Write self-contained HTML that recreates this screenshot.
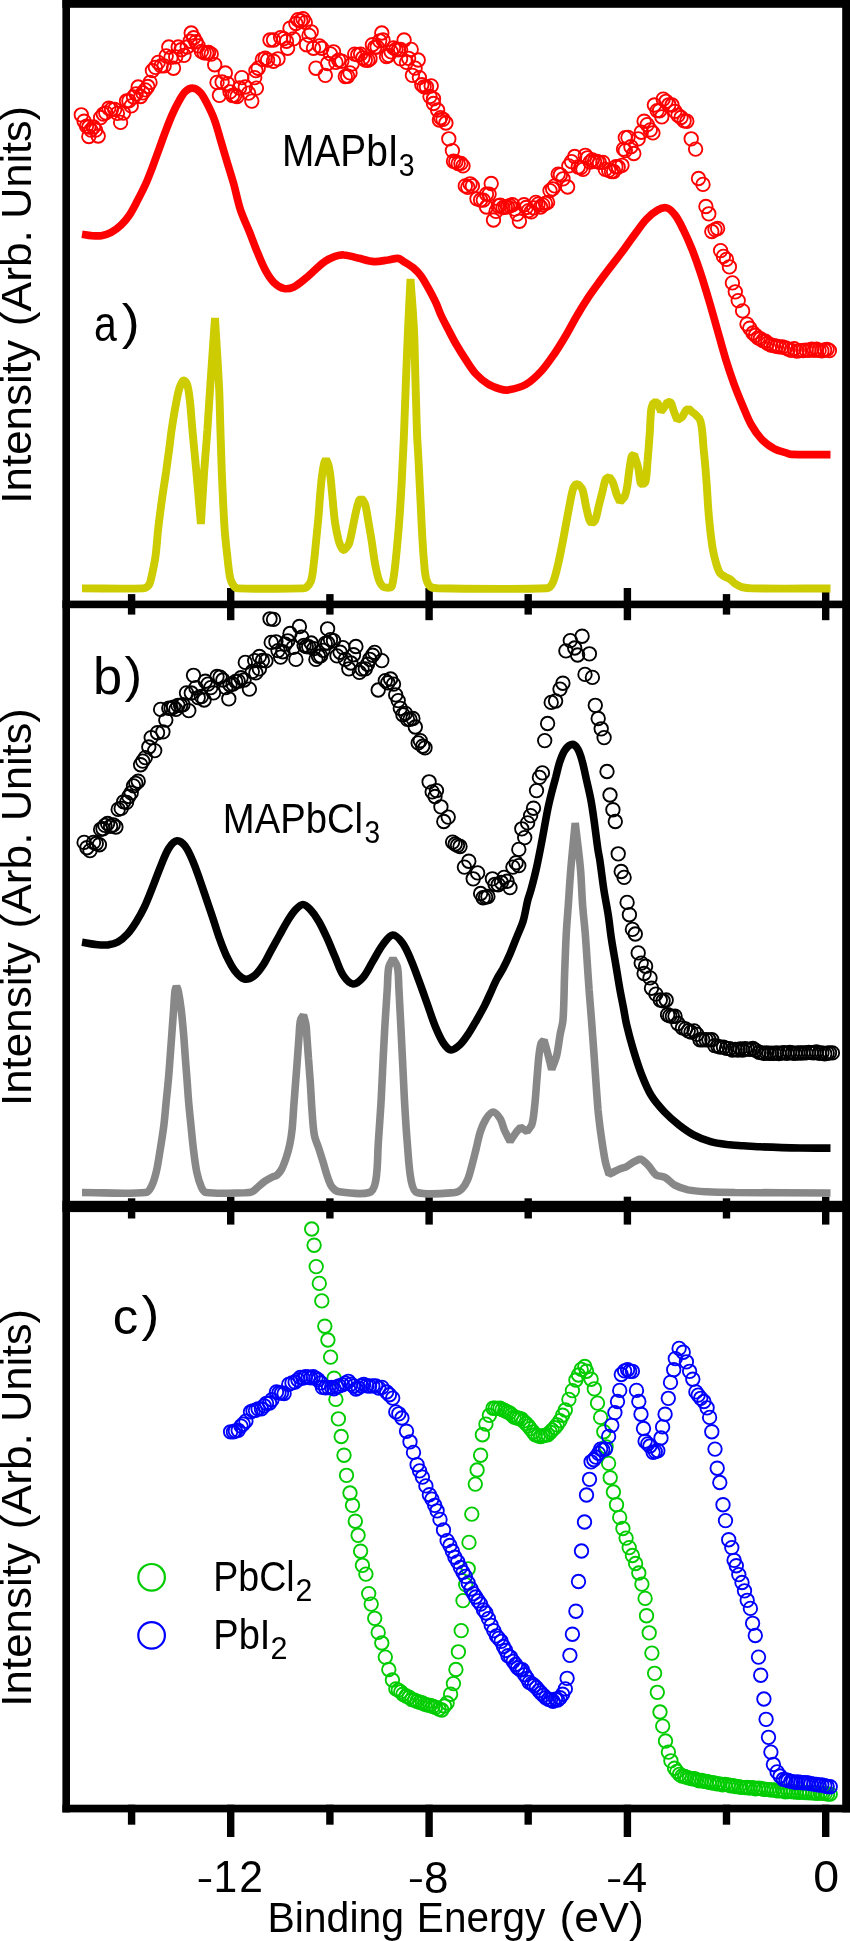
<!DOCTYPE html>
<html><head><meta charset="utf-8"><style>
html,body{margin:0;padding:0;background:#fff;}
body{width:850px;height:1941px;overflow:hidden;}
svg{position:absolute;left:0;top:0;display:block;}
</style></head><body>
<svg width="850" height="1941" viewBox="0 0 850 1941">
<rect x="62.4" y="0" width="7.6" height="1812.4" fill="#000"/>
<rect x="842.2" y="0" width="7.8" height="1812.4" fill="#000"/>
<rect x="62.4" y="0" width="787.6" height="7.8" fill="#000"/>
<rect x="62.4" y="600.6" width="787.6" height="7.6" fill="#000"/>
<rect x="62.4" y="1200.8" width="787.6" height="11.3" fill="#000"/>
<rect x="62.4" y="1804.7" width="787.6" height="7.7" fill="#000"/>
<rect x="127.9" y="594.1" width="7.4" height="20.5" fill="#000"/>
<rect x="127.9" y="1198.3" width="7.4" height="20.2" fill="#000"/>
<rect x="127.9" y="1804.7" width="7.4" height="20.0" fill="#000"/>
<rect x="227.0" y="588.0" width="7.4" height="32.2" fill="#000"/>
<rect x="227.0" y="1196.7" width="7.4" height="27.9" fill="#000"/>
<rect x="227.0" y="1804.7" width="7.4" height="32.3" fill="#000"/>
<rect x="326.2" y="594.1" width="7.4" height="20.5" fill="#000"/>
<rect x="326.2" y="1198.3" width="7.4" height="20.2" fill="#000"/>
<rect x="326.2" y="1804.7" width="7.4" height="20.0" fill="#000"/>
<rect x="425.4" y="588.0" width="7.4" height="32.2" fill="#000"/>
<rect x="425.4" y="1196.7" width="7.4" height="27.9" fill="#000"/>
<rect x="425.4" y="1804.7" width="7.4" height="32.3" fill="#000"/>
<rect x="524.5" y="594.1" width="7.4" height="20.5" fill="#000"/>
<rect x="524.5" y="1198.3" width="7.4" height="20.2" fill="#000"/>
<rect x="524.5" y="1804.7" width="7.4" height="20.0" fill="#000"/>
<rect x="623.7" y="588.0" width="7.4" height="32.2" fill="#000"/>
<rect x="623.7" y="1196.7" width="7.4" height="27.9" fill="#000"/>
<rect x="623.7" y="1804.7" width="7.4" height="32.3" fill="#000"/>
<rect x="722.8" y="594.1" width="7.4" height="20.5" fill="#000"/>
<rect x="722.8" y="1198.3" width="7.4" height="20.2" fill="#000"/>
<rect x="722.8" y="1804.7" width="7.4" height="20.0" fill="#000"/>
<rect x="822.0" y="588.0" width="7.4" height="32.2" fill="#000"/>
<rect x="822.0" y="1196.7" width="7.4" height="27.9" fill="#000"/>
<rect x="822.0" y="1804.7" width="7.4" height="32.3" fill="#000"/>
<path d="M82.00,588.40 C102.33,588.40 122.74,588.84 143.00,588.40 C144.41,588.37 145.87,587.76 147.00,587.00 C148.04,586.30 148.95,585.15 149.50,584.00 C150.35,582.22 150.77,580.17 151.20,578.20 C152.74,571.20 154.40,564.19 155.40,557.10 C156.73,547.73 157.13,538.22 158.20,528.80 C159.27,519.38 160.50,509.99 161.80,500.60 C163.10,491.19 164.65,481.81 166.00,472.40 C167.22,463.91 168.38,455.41 169.50,446.90 C170.24,441.27 170.76,435.61 171.60,430.00 C172.93,421.15 174.35,412.30 176.00,403.50 C176.98,398.30 177.89,393.00 179.50,388.00 C180.36,385.34 181.83,381.34 183.40,380.50 C184.33,380.00 186.50,382.47 187.00,384.00 C188.63,388.97 189.17,394.63 189.80,400.00 C190.97,409.96 191.48,420.00 192.40,430.00 C193.68,444.00 195.13,457.99 196.40,472.00 C197.97,489.33 199.40,506.67 200.90,524.00 C201.97,506.80 202.91,489.59 204.10,472.40 C205.08,458.26 206.39,444.14 207.40,430.00 C208.35,416.67 209.10,403.33 210.00,390.00 C211.63,366.00 213.33,342.00 215.00,318.00 C216.40,342.00 218.04,365.99 219.20,390.00 C219.84,403.32 219.98,416.67 220.40,430.00 C220.85,444.13 221.20,458.27 221.80,472.40 C222.60,491.21 223.36,510.02 224.60,528.80 C225.23,538.26 226.33,547.68 227.40,557.10 C228.20,564.15 228.72,571.32 230.20,578.20 C230.76,580.79 231.94,583.46 233.50,585.50 C234.54,586.86 236.24,588.33 238.00,588.40 C259.40,589.29 281.36,588.65 303.00,588.40 C304.10,588.39 305.43,588.30 306.20,587.60 C308.06,585.90 310.12,583.67 310.90,581.20 C312.66,575.63 313.04,569.43 313.80,563.50 C314.80,555.69 315.42,547.83 316.20,540.00 C316.98,532.17 317.82,524.34 318.50,516.50 C319.18,508.64 319.61,500.76 320.30,492.90 C320.81,487.03 321.34,481.14 322.10,475.30 C322.64,471.18 323.24,467.02 324.20,463.00 C324.54,461.59 325.40,460.33 326.00,459.00 C326.83,461.00 327.95,462.92 328.50,465.00 C329.38,468.35 329.88,471.84 330.30,475.30 C331.25,483.11 331.82,490.97 332.60,498.80 C333.39,506.67 333.88,514.58 335.00,522.40 C335.85,528.31 337.09,534.20 338.50,540.00 C339.09,542.40 339.86,544.85 341.00,547.00 C341.63,548.19 342.83,549.91 343.80,550.00 C344.67,550.08 345.73,548.44 346.50,547.50 C347.50,546.28 348.63,545.00 349.10,543.50 C350.66,538.57 351.50,533.31 352.60,528.20 C353.86,522.35 354.83,516.43 356.20,510.60 C357.00,507.19 357.81,503.68 359.10,500.50 C359.45,499.64 360.43,499.17 361.10,498.50 C361.90,499.33 362.91,500.03 363.50,501.00 C364.41,502.49 365.20,504.18 365.60,505.90 C366.86,511.31 367.55,516.90 368.50,522.40 C369.51,528.26 370.57,534.12 371.50,540.00 C372.74,547.82 373.59,555.71 375.00,563.50 C375.93,568.64 376.99,573.82 378.50,578.80 C379.16,580.99 380.21,583.17 381.50,585.00 C382.18,585.97 383.28,586.88 384.40,587.20 C386.21,587.72 388.60,587.98 390.30,587.50 C391.20,587.25 391.95,586.00 392.20,585.00 C393.39,580.23 393.98,575.16 394.60,570.20 C395.68,561.46 396.48,552.67 397.30,543.90 C398.12,535.14 398.85,526.37 399.50,517.60 C400.15,508.84 400.70,500.07 401.20,491.30 C401.70,482.57 402.07,473.83 402.50,465.10 C402.93,456.33 403.44,447.57 403.80,438.80 C404.61,418.80 405.23,398.80 406.00,378.80 C406.63,362.53 407.27,346.26 408.00,330.00 C408.77,313.00 409.67,296.00 410.50,279.00 C411.67,296.00 413.16,312.98 414.00,330.00 C414.80,346.25 414.92,362.53 415.40,378.80 C415.95,397.53 416.40,416.27 417.10,435.00 C417.37,442.11 417.93,449.20 418.30,456.30 C418.76,465.07 419.17,473.83 419.60,482.60 C420.03,491.37 420.47,500.13 420.90,508.90 C421.33,517.67 421.68,526.44 422.20,535.20 C422.72,543.97 423.20,552.75 424.00,561.50 C424.53,567.35 424.75,573.40 426.20,579.00 C426.95,581.87 428.48,585.17 430.60,586.90 C432.28,588.27 435.22,588.27 437.60,588.30 C474.02,588.74 510.91,589.44 547.00,588.30 C548.98,588.24 550.76,586.32 551.80,584.70 C553.53,581.99 554.35,578.50 555.30,575.30 C556.68,570.67 557.75,565.93 558.80,561.20 C560.11,555.33 561.25,549.41 562.40,543.50 C563.62,537.24 564.73,530.97 565.90,524.70 C567.07,518.43 568.16,512.15 569.40,505.90 C570.49,500.39 571.37,494.77 572.90,489.40 C573.40,487.63 574.34,485.73 575.50,484.50 C576.04,483.93 577.17,484.17 578.00,484.00 C579.47,485.80 581.63,487.27 582.40,489.40 C584.26,494.57 584.65,500.42 585.90,505.90 C586.98,510.62 587.88,515.46 589.40,520.00 C589.84,521.33 591.00,522.33 591.80,523.50 C592.97,522.33 594.71,521.49 595.30,520.00 C597.04,515.62 597.62,510.60 598.80,505.90 C599.98,501.20 601.17,496.49 602.40,491.80 C603.54,487.46 604.09,482.62 605.90,478.80 C606.43,477.68 608.23,477.60 609.40,477.00 C610.57,478.80 612.08,480.44 612.90,482.40 C614.45,486.14 615.11,490.27 616.50,494.10 C617.48,496.80 618.83,499.37 620.00,502.00 C621.57,500.17 623.69,498.62 624.70,496.50 C626.06,493.65 626.55,490.28 627.10,487.10 C628.11,481.25 628.51,475.28 629.40,469.40 C630.08,464.91 630.50,460.13 631.80,456.00 C632.06,455.17 633.33,455.00 634.10,454.50 C634.90,457.00 635.74,459.49 636.50,462.00 C637.21,464.35 638.03,466.69 638.50,469.10 C639.40,473.69 639.42,478.66 640.60,483.00 C640.82,483.80 642.00,484.00 642.70,484.50 C643.63,483.67 645.26,483.18 645.50,482.00 C646.89,475.22 646.98,467.74 647.60,460.60 C648.41,451.21 649.13,441.80 649.80,432.40 C650.33,424.87 650.33,417.26 651.20,409.80 C651.49,407.30 652.60,404.93 653.30,402.50 C654.70,402.50 656.10,402.50 657.50,402.50 C658.67,405.50 659.83,408.50 661.00,411.50 C662.20,409.97 663.53,408.52 664.60,406.90 C665.66,405.29 666.47,403.50 667.40,401.80 C668.57,402.10 670.29,401.80 670.90,402.70 C672.42,404.93 672.76,408.39 673.80,411.20 C674.89,414.16 676.13,417.07 677.30,420.00 C678.93,418.93 680.94,418.21 682.20,416.80 C683.77,415.05 684.33,412.34 685.80,410.50 C686.46,409.67 687.67,409.37 688.60,408.80 C689.77,409.83 690.91,410.89 692.10,411.90 C693.51,413.09 695.09,414.11 696.40,415.40 C697.69,416.67 699.25,417.95 699.90,419.60 C701.11,422.65 701.57,426.16 702.00,429.50 C702.73,435.13 702.89,440.84 703.40,446.50 C703.82,451.20 704.38,455.90 704.80,460.60 C705.31,466.23 705.77,471.86 706.20,477.50 C706.64,483.33 707.02,489.17 707.40,495.00 C707.72,499.80 707.92,504.61 708.30,509.40 C708.82,515.87 709.38,522.35 710.10,528.80 C710.82,535.28 711.50,541.78 712.60,548.20 C713.43,553.02 714.53,557.82 715.90,562.50 C716.93,566.02 717.90,569.81 719.80,572.80 C720.90,574.54 723.10,575.56 724.90,576.70 C726.53,577.73 728.51,578.22 730.10,579.30 C731.98,580.58 733.41,582.54 735.30,583.80 C737.31,585.14 739.49,586.47 741.80,587.10 C745.09,588.00 748.64,588.35 752.10,588.40 C778.21,588.81 804.37,588.47 830.50,588.50" fill="none" stroke="#cccc00" stroke-width="7.9" stroke-linejoin="bevel" stroke-linecap="butt"/>
<path d="M82.00,234.20 C85.17,234.70 88.31,235.45 91.50,235.70 C94.78,235.95 98.19,236.24 101.40,235.70 C104.75,235.14 108.21,234.02 111.20,232.40 C114.78,230.46 118.13,227.82 121.10,225.00 C124.20,222.05 127.02,218.66 129.40,215.10 C132.52,210.43 134.98,205.29 137.60,200.30 C140.45,194.86 143.29,189.40 145.80,183.80 C148.22,178.40 150.29,172.83 152.40,167.30 C154.69,161.30 156.80,155.23 159.00,149.20 C161.20,143.17 163.31,137.10 165.60,131.10 C167.71,125.57 169.80,120.01 172.20,114.60 C174.20,110.11 176.36,105.66 178.80,101.40 C180.76,97.96 182.62,94.12 185.40,91.50 C187.29,89.72 190.39,88.05 192.80,88.20 C195.33,88.35 198.32,90.40 200.20,92.40 C202.98,95.36 204.88,99.39 206.80,103.10 C209.64,108.59 212.36,114.21 214.50,120.00 C217.06,126.91 218.78,134.13 220.90,141.20 C223.02,148.26 225.08,155.34 227.20,162.40 C229.31,169.44 231.62,176.42 233.60,183.50 C236.06,192.29 237.66,201.35 240.50,210.00 C242.93,217.41 246.50,224.44 249.40,231.70 C252.24,238.81 254.75,246.04 257.70,253.10 C260.25,259.21 262.70,265.43 265.90,271.20 C268.17,275.30 270.77,279.52 274.10,282.70 C276.80,285.28 280.48,287.75 284.00,288.50 C287.08,289.15 290.95,288.27 293.90,286.90 C298.08,284.97 301.73,281.57 305.40,278.60 C308.86,275.80 311.94,272.53 315.30,269.60 C318.54,266.77 321.64,263.67 325.20,261.30 C328.24,259.27 331.65,257.56 335.10,256.40 C337.92,255.46 341.05,254.79 344.00,255.00 C348.69,255.33 353.34,256.97 358.00,258.00 C363.34,259.17 368.62,261.24 374.00,261.60 C378.62,261.91 383.35,260.62 388.00,260.00 C391.35,259.55 394.81,258.11 398.00,258.40 C399.97,258.58 401.73,260.29 403.50,261.40 C407.10,263.66 410.86,265.79 414.10,268.50 C416.76,270.72 419.11,273.42 421.20,276.20 C423.35,279.06 425.01,282.29 426.80,285.40 C428.54,288.42 430.19,291.50 431.80,294.60 C433.49,297.87 435.20,301.14 436.70,304.50 C438.23,307.94 439.32,311.58 440.90,315.00 C443.09,319.75 445.58,324.36 448.00,329.00 C450.62,334.03 453.16,339.10 456.00,344.00 C459.16,349.44 462.51,354.77 466.00,360.00 C469.18,364.77 472.16,369.81 476.00,374.00 C479.49,377.81 483.63,381.27 488.00,384.00 C491.63,386.27 495.89,387.76 500.00,389.00 C502.52,389.76 505.33,390.45 507.90,390.00 C513.93,388.95 520.49,387.51 525.80,384.50 C531.65,381.18 536.75,376.02 541.40,371.00 C546.42,365.58 550.59,359.31 554.80,353.20 C558.79,347.41 562.43,341.36 566.00,335.30 C569.89,328.69 573.32,321.81 577.20,315.20 C580.75,309.15 584.42,303.15 588.30,297.30 C591.85,291.95 595.70,286.78 599.50,281.60 C603.90,275.61 608.41,269.71 612.90,263.80 C616.61,258.91 620.45,254.13 624.10,249.20 C627.91,244.06 631.48,238.73 635.30,233.60 C638.95,228.70 642.32,223.50 646.50,219.10 C649.76,215.67 653.54,212.36 657.60,210.10 C660.24,208.63 663.94,207.17 666.60,207.90 C669.74,208.77 672.81,212.06 675.00,214.90 C678.38,219.29 680.80,224.57 683.30,229.60 C686.40,235.83 689.22,242.23 691.80,248.70 C694.85,256.36 697.59,264.17 700.20,272.00 C703.23,281.10 705.97,290.30 708.70,299.50 C711.63,309.37 714.38,319.30 717.20,329.20 C720.01,339.06 722.59,349.00 725.60,358.80 C728.22,367.33 731.04,375.82 734.10,384.20 C736.71,391.35 739.64,398.39 742.60,405.40 C745.31,411.82 747.70,418.46 751.10,424.50 C754.06,429.76 757.55,434.97 761.70,439.30 C765.32,443.07 769.81,446.31 774.40,448.80 C778.28,450.91 782.86,451.69 787.10,453.10 C788.49,453.56 789.84,454.35 791.30,454.40 C804.31,454.85 817.43,454.53 830.50,454.60" fill="none" stroke="#ff0000" stroke-width="7.7" stroke-linejoin="bevel" stroke-linecap="butt"/>
<path d="M82.00,1192.50 C103.27,1192.50 125.37,1194.38 145.80,1192.50 C148.57,1192.25 150.31,1188.61 151.60,1186.10 C153.78,1181.84 155.09,1176.94 156.20,1172.20 C157.99,1164.57 159.03,1156.75 160.30,1149.00 C161.56,1141.28 162.83,1133.56 163.80,1125.80 C164.76,1118.09 165.33,1110.33 166.10,1102.60 C166.87,1094.87 167.72,1087.14 168.40,1079.40 C169.08,1071.67 169.62,1063.93 170.20,1056.20 C170.78,1048.47 171.33,1040.73 171.90,1033.00 C172.47,1025.27 173.03,1017.53 173.60,1009.80 C174.06,1003.53 174.24,997.21 175.00,991.00 C175.21,989.28 176.00,987.67 176.50,986.00 C177.10,987.67 177.96,989.27 178.30,991.00 C179.52,997.20 180.42,1003.51 181.20,1009.80 C182.15,1017.51 182.83,1025.26 183.50,1033.00 C184.17,1040.72 184.62,1048.47 185.20,1056.20 C185.78,1063.93 186.42,1071.67 187.00,1079.40 C187.58,1087.13 188.03,1094.88 188.70,1102.60 C189.37,1110.34 190.22,1118.07 191.00,1125.80 C191.78,1133.54 192.44,1141.29 193.40,1149.00 C194.37,1156.75 195.19,1164.58 196.80,1172.20 C197.89,1177.34 199.35,1182.60 201.50,1187.30 C202.45,1189.36 203.90,1192.22 206.10,1192.50 C218.40,1194.06 232.05,1193.00 245.00,1192.80 C247.39,1192.76 249.99,1192.73 252.10,1191.80 C254.29,1190.83 255.98,1188.68 257.90,1187.10 C260.28,1185.15 262.49,1182.97 265.00,1181.20 C267.23,1179.63 269.66,1178.32 272.10,1177.10 C273.60,1176.35 275.55,1176.33 276.80,1175.30 C278.68,1173.76 280.33,1171.60 281.50,1169.40 C283.47,1165.70 284.87,1161.61 286.20,1157.60 C287.60,1153.38 288.79,1149.05 289.70,1144.70 C290.76,1139.65 291.56,1134.53 292.10,1129.40 C292.92,1121.60 293.22,1113.73 293.80,1105.90 C294.38,1098.07 295.00,1090.23 295.60,1082.40 C296.20,1074.53 296.82,1066.67 297.40,1058.80 C297.98,1050.97 298.47,1043.13 299.10,1035.30 C299.51,1030.20 299.44,1024.91 300.50,1020.00 C300.90,1018.14 302.50,1016.67 303.50,1015.00 C304.33,1018.33 305.45,1021.62 306.00,1025.00 C306.55,1028.39 306.55,1031.87 306.80,1035.30 C307.38,1043.13 307.92,1050.97 308.50,1058.80 C309.08,1066.67 309.77,1074.53 310.30,1082.40 C310.97,1092.20 311.34,1102.01 312.10,1111.80 C312.71,1119.65 312.97,1127.61 314.40,1135.30 C315.30,1140.14 317.57,1144.69 319.10,1149.40 C320.50,1153.72 321.87,1158.06 323.20,1162.40 C324.64,1167.09 325.74,1171.90 327.40,1176.50 C328.71,1180.13 329.84,1184.15 332.10,1187.10 C333.74,1189.25 336.39,1191.41 339.10,1191.80 C348.79,1193.21 360.80,1195.01 369.30,1192.50 C373.00,1191.41 374.93,1185.24 375.70,1181.00 C377.93,1168.77 377.44,1155.73 378.30,1143.10 C379.17,1130.23 380.15,1117.37 380.90,1104.50 C381.65,1091.64 382.15,1078.77 382.80,1065.90 C383.45,1053.00 384.05,1040.10 384.80,1027.20 C385.55,1014.33 386.45,1001.47 387.30,988.60 C387.78,981.40 387.48,973.98 388.80,967.00 C389.38,963.94 391.60,961.33 393.00,958.50 C394.47,961.33 396.80,963.92 397.40,967.00 C398.76,973.96 398.48,981.40 398.90,988.60 C399.65,1001.46 400.25,1014.33 400.90,1027.20 C401.55,1040.10 402.17,1053.00 402.80,1065.90 C403.43,1078.77 403.95,1091.64 404.70,1104.50 C405.45,1117.37 406.21,1130.25 407.30,1143.10 C408.38,1155.75 408.78,1168.69 411.20,1181.00 C412.02,1185.16 413.30,1191.53 417.00,1192.50 C427.90,1195.36 442.60,1193.55 455.00,1192.50 C457.63,1192.28 460.29,1190.55 462.10,1188.70 C464.52,1186.22 466.32,1182.78 467.70,1179.50 C469.59,1175.02 470.60,1170.13 471.90,1165.40 C473.44,1159.80 474.79,1154.14 476.20,1148.50 C477.62,1142.84 478.56,1137.02 480.40,1131.50 C481.86,1127.12 483.61,1122.62 486.10,1118.80 C487.84,1116.12 490.76,1112.00 493.10,1112.00 C495.46,1112.00 498.51,1116.09 500.20,1118.80 C502.27,1122.12 502.80,1126.42 504.40,1130.10 C506.10,1133.99 508.20,1137.70 510.10,1141.50 C511.97,1138.63 513.67,1135.64 515.70,1132.90 C517.17,1130.91 518.97,1129.17 520.60,1127.30 C522.73,1128.70 524.87,1130.10 527.00,1131.50 C528.63,1129.17 531.12,1127.17 531.90,1124.50 C533.72,1118.24 534.07,1111.33 534.80,1104.70 C535.73,1096.26 536.18,1087.76 536.90,1079.30 C537.58,1071.30 538.06,1063.27 539.00,1055.30 C539.49,1051.17 539.95,1046.84 541.20,1043.00 C541.61,1041.74 543.07,1041.00 544.00,1040.00 C545.40,1045.10 546.86,1050.18 548.20,1055.30 C549.43,1060.02 550.53,1064.77 551.70,1069.50 C553.37,1064.77 555.53,1060.16 556.70,1055.30 C558.37,1048.36 558.94,1041.15 560.20,1034.10 C561.04,1029.38 562.65,1024.77 563.00,1020.00 C564.12,1004.77 564.02,989.40 564.60,974.10 C565.12,960.40 565.57,946.69 566.30,933.00 C566.80,923.66 567.64,914.33 568.30,905.00 C569.17,892.67 569.86,880.32 570.90,868.00 C572.16,852.99 573.77,838.00 575.20,823.00 C576.93,838.00 579.04,852.97 580.40,868.00 C581.51,880.30 581.69,892.68 582.60,905.00 C583.29,914.35 584.47,923.66 585.20,933.00 C586.27,946.69 587.06,960.40 588.00,974.10 C588.36,979.40 588.70,984.70 589.10,990.00 C589.86,1000.00 590.73,1010.00 591.50,1020.00 C592.27,1030.00 592.98,1040.00 593.70,1050.00 C594.42,1060.00 595.08,1070.00 595.80,1080.00 C596.52,1090.00 597.18,1100.01 598.00,1110.00 C598.28,1113.34 598.70,1116.67 599.10,1120.00 C599.67,1124.70 600.25,1129.41 600.90,1134.10 C601.55,1138.81 602.24,1143.51 603.00,1148.20 C603.77,1152.91 604.44,1157.65 605.50,1162.30 C606.44,1166.42 607.83,1170.43 609.00,1174.50 C610.87,1173.50 612.72,1172.47 614.60,1171.50 C616.48,1170.53 618.34,1169.50 620.30,1168.70 C622.34,1167.87 624.64,1167.59 626.60,1166.60 C628.87,1165.45 630.78,1163.59 633.00,1162.30 C635.25,1160.99 637.67,1159.97 640.00,1158.80 C641.20,1159.50 642.51,1160.05 643.60,1160.90 C645.31,1162.25 646.95,1163.76 648.40,1165.40 C651.05,1168.39 652.79,1172.57 655.90,1174.80 C658.46,1176.64 662.56,1176.04 665.40,1177.60 C668.86,1179.51 671.31,1183.30 674.80,1185.20 C678.84,1187.40 683.46,1188.96 688.00,1189.90 C694.12,1191.16 700.52,1191.45 706.80,1191.80 C716.18,1192.32 725.60,1192.41 735.00,1192.50 C766.83,1192.81 798.67,1192.83 830.50,1193.00" fill="none" stroke="#888888" stroke-width="7.6" stroke-linejoin="bevel" stroke-linecap="butt"/>
<path d="M82.00,942.30 C86.27,943.00 90.51,943.97 94.80,944.40 C99.17,944.84 103.68,945.35 108.00,944.90 C111.34,944.55 114.90,943.65 117.80,942.00 C121.47,939.92 124.81,936.85 127.70,933.70 C130.87,930.25 133.49,926.20 136.00,922.20 C138.99,917.43 141.79,912.49 144.20,907.40 C147.25,900.96 149.74,894.23 152.40,887.60 C155.24,880.50 157.75,873.26 160.70,866.20 C163.25,860.09 165.38,853.55 168.90,848.10 C170.85,845.09 174.22,841.10 177.10,840.80 C179.72,840.53 183.46,843.81 185.40,846.40 C188.96,851.17 191.19,857.26 193.60,862.90 C196.12,868.80 198.06,874.94 200.20,881.00 C202.43,887.31 204.54,893.66 206.70,900.00 C208.91,906.50 211.13,912.99 213.30,919.50 C215.50,926.09 217.44,932.77 219.80,939.30 C221.81,944.87 223.86,950.46 226.40,955.80 C228.83,960.90 231.27,966.21 234.70,970.60 C237.31,973.94 240.87,978.08 244.50,979.00 C247.44,979.75 251.68,977.58 254.40,975.60 C257.75,973.15 260.33,969.27 262.70,965.70 C265.83,961.00 268.16,955.76 270.90,950.80 C273.63,945.86 276.35,940.93 279.10,936.00 C281.85,931.06 284.40,925.98 287.40,921.20 C289.90,917.22 292.43,913.09 295.60,909.70 C297.63,907.53 300.53,904.50 303.00,904.50 C305.47,904.50 308.36,907.53 310.40,909.70 C313.60,913.10 316.31,917.14 318.70,921.20 C321.81,926.47 324.34,932.12 326.90,937.70 C329.81,944.05 332.32,950.59 335.10,957.00 C337.78,963.19 339.64,970.02 343.30,975.50 C345.64,979.02 349.66,983.63 353.10,984.00 C356.23,984.33 360.49,980.50 363.00,977.60 C367.09,972.87 369.59,966.60 372.90,961.10 C376.19,955.63 378.97,949.75 382.80,944.70 C385.57,941.05 389.27,935.30 392.70,935.00 C395.83,934.73 400.05,939.68 402.50,943.00 C406.08,947.85 408.35,953.86 410.80,959.50 C413.85,966.50 416.34,973.74 419.00,980.90 C421.84,988.57 424.54,996.30 427.30,1004.00 C430.04,1011.66 432.38,1019.50 435.50,1027.00 C437.85,1032.66 440.31,1038.50 443.70,1043.50 C445.51,1046.17 448.46,1049.84 451.10,1050.00 C453.96,1050.17 457.65,1046.87 460.20,1044.50 C463.38,1041.54 465.83,1037.66 468.30,1034.00 C471.27,1029.59 473.85,1024.92 476.50,1020.30 C479.32,1015.38 482.15,1010.46 484.70,1005.40 C487.25,1000.36 489.45,995.14 491.80,990.00 C493.41,986.47 494.80,982.83 496.60,979.40 C498.50,975.76 501.00,972.44 502.90,968.80 C505.60,963.61 508.06,958.27 510.40,952.90 C512.66,947.70 514.59,942.36 516.70,937.10 C518.82,931.80 521.47,926.66 523.10,921.20 C525.17,914.29 526.03,907.01 527.80,900.00 C528.73,896.31 530.20,892.77 531.20,889.10 C533.10,882.07 534.92,875.01 536.50,867.90 C538.45,859.14 540.11,850.31 541.80,841.50 C543.87,830.71 545.64,819.87 547.80,809.10 C548.87,803.77 550.18,798.48 551.50,793.20 C552.82,787.91 554.30,782.67 555.70,777.40 C557.10,772.10 558.12,766.67 559.90,761.50 C561.29,757.47 562.78,753.19 565.20,749.80 C566.85,747.49 569.79,744.64 572.10,744.40 C573.89,744.21 576.34,746.65 577.50,748.50 C579.61,751.85 580.78,756.06 581.90,760.00 C583.78,766.56 585.00,773.33 586.50,780.00 C588.00,786.66 589.64,793.29 590.90,800.00 C592.14,806.63 593.05,813.32 594.00,820.00 C595.42,829.99 596.55,840.02 598.00,850.00 C598.49,853.35 599.31,856.65 599.80,860.00 C601.27,869.98 602.37,880.03 603.90,890.00 C605.17,898.26 606.93,906.44 608.20,914.70 C609.46,922.91 610.25,931.19 611.50,939.40 C612.75,947.66 614.32,955.86 615.70,964.10 C617.08,972.33 618.34,980.58 619.80,988.80 C620.94,995.22 622.29,1001.60 623.50,1008.00 C624.55,1013.56 625.31,1019.19 626.60,1024.70 C628.54,1032.99 630.76,1041.24 633.20,1049.40 C635.69,1057.71 638.24,1066.03 641.40,1074.10 C644.27,1081.43 647.22,1088.91 651.30,1095.60 C654.92,1101.55 659.69,1106.92 664.50,1112.00 C669.03,1116.79 674.10,1121.14 679.30,1125.20 C683.97,1128.84 688.88,1132.35 694.10,1135.10 C699.31,1137.85 704.94,1140.07 710.60,1141.70 C715.94,1143.24 721.57,1143.91 727.10,1144.60 C732.57,1145.28 738.10,1145.43 743.60,1145.80 C749.06,1146.17 754.53,1146.59 760.00,1146.80 C773.33,1147.32 786.66,1147.75 800.00,1148.00 C810.16,1148.19 820.33,1148.07 830.50,1148.10" fill="none" stroke="#000000" stroke-width="7.6" stroke-linejoin="bevel" stroke-linecap="butt"/>
<g fill="none" stroke="#ff0000" stroke-width="1.85">
<circle cx="81.3" cy="114.8" r="6.75"/>
<circle cx="84.1" cy="121.2" r="6.75"/>
<circle cx="88.8" cy="127.0" r="6.75"/>
<circle cx="88.8" cy="136.5" r="6.75"/>
<circle cx="93.5" cy="127.0" r="6.75"/>
<circle cx="98.2" cy="136.0" r="6.75"/>
<circle cx="100.6" cy="117.6" r="6.75"/>
<circle cx="108.8" cy="108.2" r="6.75"/>
<circle cx="114.7" cy="109.4" r="6.75"/>
<circle cx="120.6" cy="122.4" r="6.75"/>
<circle cx="126.5" cy="101.0" r="6.75"/>
<circle cx="131.2" cy="105.9" r="6.75"/>
<circle cx="138.2" cy="87.0" r="6.75"/>
<circle cx="140.6" cy="96.5" r="6.75"/>
<circle cx="150.0" cy="82.4" r="6.75"/>
<circle cx="152.4" cy="70.6" r="6.75"/>
<circle cx="158.2" cy="62.4" r="6.75"/>
<circle cx="164.1" cy="65.9" r="6.75"/>
<circle cx="168.8" cy="47.0" r="6.75"/>
<circle cx="173.5" cy="68.2" r="6.75"/>
<circle cx="178.2" cy="47.0" r="6.75"/>
<circle cx="184.0" cy="55.3" r="6.75"/>
<circle cx="190.0" cy="41.2" r="6.75"/>
<circle cx="191.2" cy="33.0" r="6.75"/>
<circle cx="198.2" cy="45.9" r="6.75"/>
<circle cx="204.1" cy="52.9" r="6.75"/>
<circle cx="211.2" cy="54.1" r="6.75"/>
<circle cx="214.7" cy="64.7" r="6.75"/>
<circle cx="217.0" cy="82.4" r="6.75"/>
<circle cx="219.4" cy="95.3" r="6.75"/>
<circle cx="225.3" cy="73.0" r="6.75"/>
<circle cx="230.0" cy="91.8" r="6.75"/>
<circle cx="237.0" cy="96.5" r="6.75"/>
<circle cx="241.8" cy="77.6" r="6.75"/>
<circle cx="245.3" cy="87.0" r="6.75"/>
<circle cx="251.8" cy="101.1" r="6.75"/>
<circle cx="254.7" cy="77.6" r="6.75"/>
<circle cx="255.9" cy="70.6" r="6.75"/>
<circle cx="256.4" cy="88.1" r="6.75"/>
<circle cx="258.2" cy="68.2" r="6.75"/>
<circle cx="262.4" cy="59.4" r="6.75"/>
<circle cx="267.6" cy="60.0" r="6.75"/>
<circle cx="270.0" cy="40.0" r="6.75"/>
<circle cx="273.5" cy="40.0" r="6.75"/>
<circle cx="273.5" cy="61.2" r="6.75"/>
<circle cx="278.0" cy="58.8" r="6.75"/>
<circle cx="280.6" cy="37.6" r="6.75"/>
<circle cx="286.5" cy="41.2" r="6.75"/>
<circle cx="287.6" cy="48.2" r="6.75"/>
<circle cx="290.0" cy="28.2" r="6.75"/>
<circle cx="293.5" cy="38.8" r="6.75"/>
<circle cx="295.9" cy="23.5" r="6.75"/>
<circle cx="303.0" cy="18.8" r="6.75"/>
<circle cx="305.3" cy="22.4" r="6.75"/>
<circle cx="306.5" cy="44.7" r="6.75"/>
<circle cx="311.2" cy="31.8" r="6.75"/>
<circle cx="313.5" cy="48.2" r="6.75"/>
<circle cx="315.9" cy="68.2" r="6.75"/>
<circle cx="319.4" cy="45.9" r="6.75"/>
<circle cx="321.8" cy="48.2" r="6.75"/>
<circle cx="325.3" cy="75.3" r="6.75"/>
<circle cx="327.6" cy="63.5" r="6.75"/>
<circle cx="333.5" cy="51.8" r="6.75"/>
<circle cx="335.9" cy="62.4" r="6.75"/>
<circle cx="341.8" cy="61.2" r="6.75"/>
<circle cx="345.3" cy="76.5" r="6.75"/>
<circle cx="350.0" cy="72.9" r="6.75"/>
<circle cx="354.7" cy="54.1" r="6.75"/>
<circle cx="360.6" cy="54.1" r="6.75"/>
<circle cx="365.3" cy="60.0" r="6.75"/>
<circle cx="370.0" cy="58.8" r="6.75"/>
<circle cx="372.4" cy="44.7" r="6.75"/>
<circle cx="377.1" cy="47.0" r="6.75"/>
<circle cx="381.8" cy="33.0" r="6.75"/>
<circle cx="383.0" cy="40.0" r="6.75"/>
<circle cx="386.5" cy="56.5" r="6.75"/>
<circle cx="391.2" cy="51.8" r="6.75"/>
<circle cx="395.9" cy="49.4" r="6.75"/>
<circle cx="400.6" cy="49.4" r="6.75"/>
<circle cx="400.6" cy="58.8" r="6.75"/>
<circle cx="404.1" cy="40.0" r="6.75"/>
<circle cx="406.5" cy="62.4" r="6.75"/>
<circle cx="411.2" cy="49.4" r="6.75"/>
<circle cx="412.4" cy="75.3" r="6.75"/>
<circle cx="418.2" cy="60.0" r="6.75"/>
<circle cx="419.4" cy="77.6" r="6.75"/>
<circle cx="421.8" cy="84.7" r="6.75"/>
<circle cx="426.5" cy="87.0" r="6.75"/>
<circle cx="430.0" cy="96.5" r="6.75"/>
<circle cx="431.2" cy="85.9" r="6.75"/>
<circle cx="433.5" cy="98.8" r="6.75"/>
<circle cx="433.5" cy="103.5" r="6.75"/>
<circle cx="437.6" cy="110.0" r="6.75"/>
<circle cx="439.4" cy="120.0" r="6.75"/>
<circle cx="440.6" cy="117.6" r="6.75"/>
<circle cx="445.9" cy="123.0" r="6.75"/>
<circle cx="448.8" cy="138.8" r="6.75"/>
<circle cx="452.4" cy="150.6" r="6.75"/>
<circle cx="453.5" cy="161.2" r="6.75"/>
<circle cx="458.2" cy="163.5" r="6.75"/>
<circle cx="463.0" cy="165.9" r="6.75"/>
<circle cx="465.3" cy="185.9" r="6.75"/>
<circle cx="472.4" cy="185.9" r="6.75"/>
<circle cx="477.0" cy="198.8" r="6.75"/>
<circle cx="480.6" cy="200.0" r="6.75"/>
<circle cx="486.5" cy="194.1" r="6.75"/>
<circle cx="486.5" cy="207.0" r="6.75"/>
<circle cx="491.2" cy="183.5" r="6.75"/>
<circle cx="493.5" cy="220.0" r="6.75"/>
<circle cx="498.2" cy="205.9" r="6.75"/>
<circle cx="505.3" cy="207.0" r="6.75"/>
<circle cx="512.4" cy="204.7" r="6.75"/>
<circle cx="517.1" cy="214.1" r="6.75"/>
<circle cx="519.4" cy="221.2" r="6.75"/>
<circle cx="524.0" cy="204.7" r="6.75"/>
<circle cx="531.2" cy="211.8" r="6.75"/>
<circle cx="535.9" cy="202.4" r="6.75"/>
<circle cx="540.6" cy="207.0" r="6.75"/>
<circle cx="547.6" cy="202.4" r="6.75"/>
<circle cx="550.0" cy="190.6" r="6.75"/>
<circle cx="554.7" cy="185.9" r="6.75"/>
<circle cx="558.2" cy="174.1" r="6.75"/>
<circle cx="563.0" cy="178.8" r="6.75"/>
<circle cx="567.6" cy="187.0" r="6.75"/>
<circle cx="568.8" cy="165.9" r="6.75"/>
<circle cx="574.7" cy="156.5" r="6.75"/>
<circle cx="578.2" cy="167.0" r="6.75"/>
<circle cx="583.0" cy="169.4" r="6.75"/>
<circle cx="585.3" cy="155.3" r="6.75"/>
<circle cx="592.4" cy="160.0" r="6.75"/>
<circle cx="599.4" cy="162.4" r="6.75"/>
<circle cx="602.9" cy="162.4" r="6.75"/>
<circle cx="605.3" cy="169.4" r="6.75"/>
<circle cx="611.5" cy="171.5" r="6.75"/>
<circle cx="618.2" cy="167.0" r="6.75"/>
<circle cx="622.0" cy="165.3" r="6.75"/>
<circle cx="623.5" cy="149.1" r="6.75"/>
<circle cx="625.3" cy="137.6" r="6.75"/>
<circle cx="625.3" cy="150.6" r="6.75"/>
<circle cx="628.0" cy="137.4" r="6.75"/>
<circle cx="633.8" cy="153.5" r="6.75"/>
<circle cx="638.2" cy="138.8" r="6.75"/>
<circle cx="644.1" cy="121.2" r="6.75"/>
<circle cx="652.9" cy="132.9" r="6.75"/>
<circle cx="654.4" cy="105.0" r="6.75"/>
<circle cx="661.8" cy="116.8" r="6.75"/>
<circle cx="663.2" cy="99.1" r="6.75"/>
<circle cx="672.0" cy="105.0" r="6.75"/>
<circle cx="678.0" cy="115.3" r="6.75"/>
<circle cx="686.8" cy="121.2" r="6.75"/>
<circle cx="691.2" cy="138.8" r="6.75"/>
<circle cx="695.6" cy="149.1" r="6.75"/>
<circle cx="698.5" cy="178.5" r="6.75"/>
<circle cx="703.0" cy="184.4" r="6.75"/>
<circle cx="705.9" cy="206.5" r="6.75"/>
<circle cx="708.8" cy="213.8" r="6.75"/>
<circle cx="711.8" cy="231.5" r="6.75"/>
<circle cx="717.6" cy="228.5" r="6.75"/>
<circle cx="720.6" cy="250.6" r="6.75"/>
<circle cx="726.5" cy="259.4" r="6.75"/>
<circle cx="729.4" cy="266.8" r="6.75"/>
<circle cx="732.4" cy="282.9" r="6.75"/>
<circle cx="735.3" cy="291.8" r="6.75"/>
<circle cx="738.2" cy="300.6" r="6.75"/>
<circle cx="742.6" cy="310.9" r="6.75"/>
<circle cx="747.0" cy="324.1" r="6.75"/>
<circle cx="753.0" cy="333.0" r="6.75"/>
<circle cx="760.3" cy="338.8" r="6.75"/>
<circle cx="767.6" cy="343.2" r="6.75"/>
<circle cx="776.5" cy="346.2" r="6.75"/>
<circle cx="788.2" cy="349.1" r="6.75"/>
<circle cx="800.0" cy="350.6" r="6.75"/>
<circle cx="811.8" cy="349.1" r="6.75"/>
<circle cx="829.4" cy="350.6" r="6.75"/>
<circle cx="86.5" cy="126.1" r="6.75"/>
<circle cx="90.9" cy="130.1" r="6.75"/>
<circle cx="95.6" cy="130.1" r="6.75"/>
<circle cx="103.3" cy="114.1" r="6.75"/>
<circle cx="105.8" cy="112.9" r="6.75"/>
<circle cx="111.5" cy="109.2" r="6.75"/>
<circle cx="117.4" cy="113.4" r="6.75"/>
<circle cx="123.4" cy="113.0" r="6.75"/>
<circle cx="128.9" cy="100.9" r="6.75"/>
<circle cx="133.5" cy="97.0" r="6.75"/>
<circle cx="136.1" cy="93.8" r="6.75"/>
<circle cx="142.8" cy="92.9" r="6.75"/>
<circle cx="145.2" cy="89.9" r="6.75"/>
<circle cx="147.8" cy="86.5" r="6.75"/>
<circle cx="155.4" cy="67.3" r="6.75"/>
<circle cx="161.1" cy="65.9" r="6.75"/>
<circle cx="166.2" cy="55.9" r="6.75"/>
<circle cx="171.0" cy="57.4" r="6.75"/>
<circle cx="175.7" cy="56.9" r="6.75"/>
<circle cx="181.2" cy="49.7" r="6.75"/>
<circle cx="187.2" cy="47.0" r="6.75"/>
<circle cx="193.7" cy="37.7" r="6.75"/>
<circle cx="195.9" cy="41.7" r="6.75"/>
<circle cx="201.4" cy="51.4" r="6.75"/>
<circle cx="206.8" cy="53.1" r="6.75"/>
<circle cx="208.6" cy="52.5" r="6.75"/>
<circle cx="222.1" cy="82.0" r="6.75"/>
<circle cx="227.6" cy="83.6" r="6.75"/>
<circle cx="232.5" cy="95.5" r="6.75"/>
<circle cx="234.7" cy="95.5" r="6.75"/>
<circle cx="239.5" cy="88.0" r="6.75"/>
<circle cx="248.6" cy="93.1" r="6.75"/>
<circle cx="265.2" cy="58.2" r="6.75"/>
<circle cx="283.8" cy="38.6" r="6.75"/>
<circle cx="298.0" cy="19.7" r="6.75"/>
<circle cx="300.8" cy="20.7" r="6.75"/>
<circle cx="309.0" cy="35.4" r="6.75"/>
<circle cx="330.4" cy="53.9" r="6.75"/>
<circle cx="338.6" cy="60.1" r="6.75"/>
<circle cx="347.6" cy="76.2" r="6.75"/>
<circle cx="352.1" cy="63.9" r="6.75"/>
<circle cx="357.8" cy="54.8" r="6.75"/>
<circle cx="362.9" cy="57.8" r="6.75"/>
<circle cx="367.9" cy="60.2" r="6.75"/>
<circle cx="374.8" cy="47.3" r="6.75"/>
<circle cx="379.7" cy="40.8" r="6.75"/>
<circle cx="388.7" cy="55.4" r="6.75"/>
<circle cx="393.5" cy="47.9" r="6.75"/>
<circle cx="398.5" cy="49.8" r="6.75"/>
<circle cx="408.6" cy="58.3" r="6.75"/>
<circle cx="415.1" cy="68.1" r="6.75"/>
<circle cx="424.1" cy="86.8" r="6.75"/>
<circle cx="443.0" cy="119.3" r="6.75"/>
<circle cx="455.8" cy="161.7" r="6.75"/>
<circle cx="460.9" cy="163.4" r="6.75"/>
<circle cx="467.8" cy="187.3" r="6.75"/>
<circle cx="470.1" cy="183.8" r="6.75"/>
<circle cx="483.3" cy="200.1" r="6.75"/>
<circle cx="489.1" cy="194.1" r="6.75"/>
<circle cx="496.0" cy="211.4" r="6.75"/>
<circle cx="500.3" cy="205.1" r="6.75"/>
<circle cx="503.0" cy="207.6" r="6.75"/>
<circle cx="507.5" cy="206.8" r="6.75"/>
<circle cx="509.8" cy="205.7" r="6.75"/>
<circle cx="514.5" cy="209.1" r="6.75"/>
<circle cx="526.2" cy="207.5" r="6.75"/>
<circle cx="528.5" cy="210.6" r="6.75"/>
<circle cx="533.8" cy="207.9" r="6.75"/>
<circle cx="538.1" cy="204.1" r="6.75"/>
<circle cx="542.8" cy="204.9" r="6.75"/>
<circle cx="545.5" cy="203.4" r="6.75"/>
<circle cx="552.6" cy="188.8" r="6.75"/>
<circle cx="560.4" cy="174.8" r="6.75"/>
<circle cx="571.5" cy="161.6" r="6.75"/>
<circle cx="580.8" cy="167.6" r="6.75"/>
<circle cx="587.5" cy="157.8" r="6.75"/>
<circle cx="590.1" cy="162.1" r="6.75"/>
<circle cx="594.5" cy="161.3" r="6.75"/>
<circle cx="597.1" cy="161.3" r="6.75"/>
<circle cx="608.7" cy="170.4" r="6.75"/>
<circle cx="613.6" cy="171.5" r="6.75"/>
<circle cx="615.9" cy="166.7" r="6.75"/>
<circle cx="630.9" cy="146.7" r="6.75"/>
<circle cx="641.3" cy="132.2" r="6.75"/>
<circle cx="647.2" cy="124.6" r="6.75"/>
<circle cx="650.3" cy="129.9" r="6.75"/>
<circle cx="657.1" cy="110.6" r="6.75"/>
<circle cx="659.5" cy="110.7" r="6.75"/>
<circle cx="666.0" cy="101.3" r="6.75"/>
<circle cx="668.8" cy="104.8" r="6.75"/>
<circle cx="674.9" cy="111.3" r="6.75"/>
<circle cx="681.0" cy="117.5" r="6.75"/>
<circle cx="684.1" cy="120.8" r="6.75"/>
<circle cx="715.0" cy="229.6" r="6.75"/>
<circle cx="723.4" cy="256.4" r="6.75"/>
<circle cx="749.8" cy="328.2" r="6.75"/>
<circle cx="755.5" cy="335.3" r="6.75"/>
<circle cx="758.1" cy="337.8" r="6.75"/>
<circle cx="762.8" cy="340.6" r="6.75"/>
<circle cx="765.3" cy="341.2" r="6.75"/>
<circle cx="770.8" cy="345.0" r="6.75"/>
<circle cx="773.7" cy="345.6" r="6.75"/>
<circle cx="779.2" cy="346.9" r="6.75"/>
<circle cx="782.5" cy="347.0" r="6.75"/>
<circle cx="785.6" cy="347.8" r="6.75"/>
<circle cx="791.1" cy="350.4" r="6.75"/>
<circle cx="794.2" cy="348.7" r="6.75"/>
<circle cx="796.9" cy="351.1" r="6.75"/>
<circle cx="803.2" cy="350.5" r="6.75"/>
<circle cx="806.1" cy="350.1" r="6.75"/>
<circle cx="809.1" cy="350.2" r="6.75"/>
<circle cx="814.4" cy="350.2" r="6.75"/>
<circle cx="816.6" cy="349.1" r="6.75"/>
<circle cx="819.1" cy="350.4" r="6.75"/>
<circle cx="821.9" cy="350.8" r="6.75"/>
<circle cx="824.6" cy="350.0" r="6.75"/>
<circle cx="827.1" cy="349.3" r="6.75"/>
</g>
<g fill="none" stroke="#000000" stroke-width="1.85">
<circle cx="84.1" cy="842.4" r="6.75"/>
<circle cx="90.0" cy="850.6" r="6.75"/>
<circle cx="93.5" cy="842.4" r="6.75"/>
<circle cx="99.4" cy="844.7" r="6.75"/>
<circle cx="100.6" cy="829.4" r="6.75"/>
<circle cx="107.6" cy="823.5" r="6.75"/>
<circle cx="115.9" cy="827.0" r="6.75"/>
<circle cx="118.2" cy="809.4" r="6.75"/>
<circle cx="126.5" cy="802.4" r="6.75"/>
<circle cx="128.8" cy="796.5" r="6.75"/>
<circle cx="133.5" cy="785.9" r="6.75"/>
<circle cx="138.2" cy="781.2" r="6.75"/>
<circle cx="140.6" cy="764.7" r="6.75"/>
<circle cx="145.3" cy="757.6" r="6.75"/>
<circle cx="148.8" cy="747.0" r="6.75"/>
<circle cx="151.2" cy="737.6" r="6.75"/>
<circle cx="154.7" cy="750.6" r="6.75"/>
<circle cx="160.6" cy="709.4" r="6.75"/>
<circle cx="162.9" cy="731.8" r="6.75"/>
<circle cx="168.8" cy="708.2" r="6.75"/>
<circle cx="175.9" cy="709.4" r="6.75"/>
<circle cx="182.9" cy="704.7" r="6.75"/>
<circle cx="186.5" cy="692.9" r="6.75"/>
<circle cx="188.8" cy="710.6" r="6.75"/>
<circle cx="193.5" cy="675.3" r="6.75"/>
<circle cx="198.2" cy="697.6" r="6.75"/>
<circle cx="204.1" cy="700.0" r="6.75"/>
<circle cx="205.3" cy="681.2" r="6.75"/>
<circle cx="213.5" cy="692.9" r="6.75"/>
<circle cx="217.0" cy="676.5" r="6.75"/>
<circle cx="222.9" cy="680.0" r="6.75"/>
<circle cx="228.8" cy="698.8" r="6.75"/>
<circle cx="230.0" cy="684.7" r="6.75"/>
<circle cx="238.2" cy="681.2" r="6.75"/>
<circle cx="244.1" cy="680.0" r="6.75"/>
<circle cx="245.3" cy="662.4" r="6.75"/>
<circle cx="249.4" cy="689.1" r="6.75"/>
<circle cx="254.7" cy="660.6" r="6.75"/>
<circle cx="255.9" cy="672.9" r="6.75"/>
<circle cx="259.4" cy="656.5" r="6.75"/>
<circle cx="259.4" cy="668.8" r="6.75"/>
<circle cx="265.9" cy="660.9" r="6.75"/>
<circle cx="270.0" cy="618.8" r="6.75"/>
<circle cx="271.2" cy="642.4" r="6.75"/>
<circle cx="273.5" cy="619.4" r="6.75"/>
<circle cx="275.9" cy="641.8" r="6.75"/>
<circle cx="280.6" cy="657.1" r="6.75"/>
<circle cx="285.3" cy="644.1" r="6.75"/>
<circle cx="290.0" cy="633.5" r="6.75"/>
<circle cx="295.9" cy="659.4" r="6.75"/>
<circle cx="299.4" cy="626.5" r="6.75"/>
<circle cx="304.1" cy="645.3" r="6.75"/>
<circle cx="311.2" cy="643.0" r="6.75"/>
<circle cx="315.9" cy="659.4" r="6.75"/>
<circle cx="320.6" cy="655.9" r="6.75"/>
<circle cx="327.6" cy="628.8" r="6.75"/>
<circle cx="327.6" cy="643.0" r="6.75"/>
<circle cx="333.5" cy="640.6" r="6.75"/>
<circle cx="337.0" cy="655.9" r="6.75"/>
<circle cx="342.9" cy="647.6" r="6.75"/>
<circle cx="345.3" cy="659.4" r="6.75"/>
<circle cx="348.8" cy="668.8" r="6.75"/>
<circle cx="353.5" cy="654.7" r="6.75"/>
<circle cx="355.9" cy="646.5" r="6.75"/>
<circle cx="359.4" cy="672.4" r="6.75"/>
<circle cx="365.3" cy="668.8" r="6.75"/>
<circle cx="374.7" cy="652.4" r="6.75"/>
<circle cx="378.2" cy="690.0" r="6.75"/>
<circle cx="381.8" cy="660.6" r="6.75"/>
<circle cx="385.3" cy="680.6" r="6.75"/>
<circle cx="393.5" cy="684.1" r="6.75"/>
<circle cx="398.2" cy="700.6" r="6.75"/>
<circle cx="402.9" cy="714.7" r="6.75"/>
<circle cx="410.0" cy="719.4" r="6.75"/>
<circle cx="412.9" cy="718.5" r="6.75"/>
<circle cx="415.3" cy="727.0" r="6.75"/>
<circle cx="418.2" cy="742.9" r="6.75"/>
<circle cx="420.3" cy="740.6" r="6.75"/>
<circle cx="425.0" cy="747.8" r="6.75"/>
<circle cx="429.1" cy="781.8" r="6.75"/>
<circle cx="435.0" cy="796.5" r="6.75"/>
<circle cx="436.5" cy="790.6" r="6.75"/>
<circle cx="440.9" cy="806.8" r="6.75"/>
<circle cx="443.8" cy="821.5" r="6.75"/>
<circle cx="448.2" cy="817.1" r="6.75"/>
<circle cx="452.6" cy="842.1" r="6.75"/>
<circle cx="460.0" cy="846.5" r="6.75"/>
<circle cx="464.4" cy="867.1" r="6.75"/>
<circle cx="468.8" cy="861.2" r="6.75"/>
<circle cx="473.2" cy="878.8" r="6.75"/>
<circle cx="477.6" cy="872.9" r="6.75"/>
<circle cx="480.6" cy="893.5" r="6.75"/>
<circle cx="487.9" cy="896.5" r="6.75"/>
<circle cx="492.4" cy="878.8" r="6.75"/>
<circle cx="498.2" cy="884.7" r="6.75"/>
<circle cx="504.1" cy="877.4" r="6.75"/>
<circle cx="510.0" cy="887.6" r="6.75"/>
<circle cx="512.9" cy="867.1" r="6.75"/>
<circle cx="518.8" cy="849.4" r="6.75"/>
<circle cx="518.8" cy="865.6" r="6.75"/>
<circle cx="521.8" cy="828.8" r="6.75"/>
<circle cx="524.7" cy="837.6" r="6.75"/>
<circle cx="527.6" cy="822.9" r="6.75"/>
<circle cx="530.6" cy="815.6" r="6.75"/>
<circle cx="533.5" cy="808.2" r="6.75"/>
<circle cx="536.5" cy="790.6" r="6.75"/>
<circle cx="539.4" cy="777.4" r="6.75"/>
<circle cx="542.4" cy="772.9" r="6.75"/>
<circle cx="544.7" cy="740.6" r="6.75"/>
<circle cx="547.6" cy="723.5" r="6.75"/>
<circle cx="551.2" cy="702.4" r="6.75"/>
<circle cx="555.6" cy="701.0" r="6.75"/>
<circle cx="560.0" cy="689.1" r="6.75"/>
<circle cx="562.9" cy="683.2" r="6.75"/>
<circle cx="565.9" cy="650.9" r="6.75"/>
<circle cx="570.3" cy="640.6" r="6.75"/>
<circle cx="574.7" cy="648.0" r="6.75"/>
<circle cx="577.6" cy="655.0" r="6.75"/>
<circle cx="582.1" cy="636.2" r="6.75"/>
<circle cx="585.0" cy="674.4" r="6.75"/>
<circle cx="589.4" cy="653.8" r="6.75"/>
<circle cx="592.4" cy="677.4" r="6.75"/>
<circle cx="595.3" cy="705.3" r="6.75"/>
<circle cx="598.2" cy="718.5" r="6.75"/>
<circle cx="601.2" cy="728.8" r="6.75"/>
<circle cx="604.1" cy="737.6" r="6.75"/>
<circle cx="607.0" cy="771.5" r="6.75"/>
<circle cx="610.0" cy="795.0" r="6.75"/>
<circle cx="612.9" cy="809.7" r="6.75"/>
<circle cx="615.3" cy="821.5" r="6.75"/>
<circle cx="618.2" cy="853.8" r="6.75"/>
<circle cx="621.2" cy="871.5" r="6.75"/>
<circle cx="624.1" cy="877.4" r="6.75"/>
<circle cx="627.1" cy="902.4" r="6.75"/>
<circle cx="629.4" cy="914.7" r="6.75"/>
<circle cx="632.4" cy="929.4" r="6.75"/>
<circle cx="635.3" cy="934.0" r="6.75"/>
<circle cx="638.2" cy="952.9" r="6.75"/>
<circle cx="644.1" cy="973.5" r="6.75"/>
<circle cx="645.6" cy="966.2" r="6.75"/>
<circle cx="650.0" cy="977.9" r="6.75"/>
<circle cx="651.5" cy="988.2" r="6.75"/>
<circle cx="655.9" cy="994.1" r="6.75"/>
<circle cx="660.3" cy="1000.0" r="6.75"/>
<circle cx="666.2" cy="1000.0" r="6.75"/>
<circle cx="667.6" cy="1014.7" r="6.75"/>
<circle cx="675.0" cy="1016.2" r="6.75"/>
<circle cx="677.9" cy="1023.5" r="6.75"/>
<circle cx="682.4" cy="1027.9" r="6.75"/>
<circle cx="688.2" cy="1030.9" r="6.75"/>
<circle cx="694.1" cy="1030.9" r="6.75"/>
<circle cx="700.0" cy="1039.7" r="6.75"/>
<circle cx="711.8" cy="1039.7" r="6.75"/>
<circle cx="714.7" cy="1045.6" r="6.75"/>
<circle cx="723.5" cy="1047.1" r="6.75"/>
<circle cx="732.4" cy="1050.0" r="6.75"/>
<circle cx="752.9" cy="1048.5" r="6.75"/>
<circle cx="761.8" cy="1052.9" r="6.75"/>
<circle cx="776.5" cy="1052.9" r="6.75"/>
<circle cx="805.9" cy="1052.9" r="6.75"/>
<circle cx="832.4" cy="1052.9" r="6.75"/>
<circle cx="86.9" cy="847.7" r="6.75"/>
<circle cx="96.3" cy="843.5" r="6.75"/>
<circle cx="103.0" cy="828.7" r="6.75"/>
<circle cx="105.0" cy="825.4" r="6.75"/>
<circle cx="110.6" cy="826.2" r="6.75"/>
<circle cx="113.2" cy="824.8" r="6.75"/>
<circle cx="121.2" cy="808.4" r="6.75"/>
<circle cx="123.7" cy="801.8" r="6.75"/>
<circle cx="131.2" cy="792.8" r="6.75"/>
<circle cx="135.8" cy="783.3" r="6.75"/>
<circle cx="142.8" cy="761.1" r="6.75"/>
<circle cx="157.5" cy="732.7" r="6.75"/>
<circle cx="165.8" cy="720.1" r="6.75"/>
<circle cx="171.1" cy="708.3" r="6.75"/>
<circle cx="173.5" cy="707.1" r="6.75"/>
<circle cx="178.0" cy="705.4" r="6.75"/>
<circle cx="180.6" cy="705.4" r="6.75"/>
<circle cx="191.3" cy="693.0" r="6.75"/>
<circle cx="195.9" cy="687.7" r="6.75"/>
<circle cx="201.4" cy="696.5" r="6.75"/>
<circle cx="208.0" cy="684.1" r="6.75"/>
<circle cx="210.8" cy="687.6" r="6.75"/>
<circle cx="220.1" cy="677.1" r="6.75"/>
<circle cx="225.8" cy="687.6" r="6.75"/>
<circle cx="233.0" cy="684.1" r="6.75"/>
<circle cx="235.7" cy="681.4" r="6.75"/>
<circle cx="241.0" cy="677.7" r="6.75"/>
<circle cx="252.3" cy="671.5" r="6.75"/>
<circle cx="262.4" cy="660.5" r="6.75"/>
<circle cx="278.0" cy="650.6" r="6.75"/>
<circle cx="282.8" cy="651.7" r="6.75"/>
<circle cx="287.8" cy="640.8" r="6.75"/>
<circle cx="293.2" cy="647.4" r="6.75"/>
<circle cx="301.8" cy="637.2" r="6.75"/>
<circle cx="306.3" cy="646.5" r="6.75"/>
<circle cx="308.7" cy="646.7" r="6.75"/>
<circle cx="313.8" cy="648.6" r="6.75"/>
<circle cx="318.5" cy="656.3" r="6.75"/>
<circle cx="323.1" cy="650.3" r="6.75"/>
<circle cx="325.3" cy="643.4" r="6.75"/>
<circle cx="330.5" cy="639.6" r="6.75"/>
<circle cx="340.1" cy="652.2" r="6.75"/>
<circle cx="350.9" cy="663.0" r="6.75"/>
<circle cx="362.1" cy="669.1" r="6.75"/>
<circle cx="367.5" cy="664.2" r="6.75"/>
<circle cx="369.7" cy="659.3" r="6.75"/>
<circle cx="372.6" cy="655.2" r="6.75"/>
<circle cx="387.8" cy="682.7" r="6.75"/>
<circle cx="390.6" cy="679.0" r="6.75"/>
<circle cx="395.7" cy="694.9" r="6.75"/>
<circle cx="400.3" cy="708.3" r="6.75"/>
<circle cx="405.5" cy="713.4" r="6.75"/>
<circle cx="407.5" cy="719.4" r="6.75"/>
<circle cx="422.7" cy="746.2" r="6.75"/>
<circle cx="432.2" cy="791.9" r="6.75"/>
<circle cx="455.2" cy="844.0" r="6.75"/>
<circle cx="457.5" cy="845.3" r="6.75"/>
<circle cx="483.1" cy="897.7" r="6.75"/>
<circle cx="485.6" cy="897.1" r="6.75"/>
<circle cx="495.0" cy="884.3" r="6.75"/>
<circle cx="501.4" cy="882.5" r="6.75"/>
<circle cx="507.1" cy="881.2" r="6.75"/>
<circle cx="516.1" cy="862.7" r="6.75"/>
<circle cx="641.2" cy="963.1" r="6.75"/>
<circle cx="663.1" cy="1000.8" r="6.75"/>
<circle cx="669.8" cy="1015.9" r="6.75"/>
<circle cx="672.4" cy="1016.3" r="6.75"/>
<circle cx="685.5" cy="1028.9" r="6.75"/>
<circle cx="691.0" cy="1032.1" r="6.75"/>
<circle cx="697.0" cy="1034.4" r="6.75"/>
<circle cx="702.7" cy="1039.7" r="6.75"/>
<circle cx="706.0" cy="1039.7" r="6.75"/>
<circle cx="708.9" cy="1039.8" r="6.75"/>
<circle cx="717.9" cy="1046.3" r="6.75"/>
<circle cx="720.3" cy="1047.1" r="6.75"/>
<circle cx="726.5" cy="1048.3" r="6.75"/>
<circle cx="729.6" cy="1048.6" r="6.75"/>
<circle cx="735.1" cy="1049.3" r="6.75"/>
<circle cx="737.8" cy="1050.0" r="6.75"/>
<circle cx="740.2" cy="1048.9" r="6.75"/>
<circle cx="742.7" cy="1050.0" r="6.75"/>
<circle cx="744.9" cy="1048.7" r="6.75"/>
<circle cx="747.6" cy="1049.1" r="6.75"/>
<circle cx="750.2" cy="1049.4" r="6.75"/>
<circle cx="755.7" cy="1050.3" r="6.75"/>
<circle cx="759.1" cy="1052.3" r="6.75"/>
<circle cx="764.4" cy="1053.4" r="6.75"/>
<circle cx="766.6" cy="1052.8" r="6.75"/>
<circle cx="769.1" cy="1053.3" r="6.75"/>
<circle cx="771.5" cy="1053.2" r="6.75"/>
<circle cx="774.3" cy="1053.4" r="6.75"/>
<circle cx="779.0" cy="1053.5" r="6.75"/>
<circle cx="782.1" cy="1052.8" r="6.75"/>
<circle cx="784.2" cy="1052.7" r="6.75"/>
<circle cx="787.1" cy="1053.3" r="6.75"/>
<circle cx="789.7" cy="1052.3" r="6.75"/>
<circle cx="792.5" cy="1053.0" r="6.75"/>
<circle cx="795.0" cy="1053.3" r="6.75"/>
<circle cx="797.8" cy="1052.9" r="6.75"/>
<circle cx="800.4" cy="1053.0" r="6.75"/>
<circle cx="803.1" cy="1052.9" r="6.75"/>
<circle cx="808.7" cy="1052.4" r="6.75"/>
<circle cx="811.3" cy="1052.6" r="6.75"/>
<circle cx="813.8" cy="1052.7" r="6.75"/>
<circle cx="816.4" cy="1051.9" r="6.75"/>
<circle cx="819.3" cy="1053.2" r="6.75"/>
<circle cx="821.9" cy="1052.9" r="6.75"/>
<circle cx="824.7" cy="1053.8" r="6.75"/>
<circle cx="827.2" cy="1053.2" r="6.75"/>
<circle cx="829.5" cy="1052.8" r="6.75"/>
</g>
<g fill="none" stroke="#00cc00" stroke-width="1.85">
<circle cx="311.7" cy="1229.0" r="6.75"/>
<circle cx="314.1" cy="1245.2" r="6.75"/>
<circle cx="316.2" cy="1266.6" r="6.75"/>
<circle cx="319.3" cy="1283.4" r="6.75"/>
<circle cx="321.8" cy="1300.9" r="6.75"/>
<circle cx="324.8" cy="1326.2" r="6.75"/>
<circle cx="327.9" cy="1340.0" r="6.75"/>
<circle cx="330.6" cy="1357.1" r="6.75"/>
<circle cx="334.1" cy="1378.2" r="6.75"/>
<circle cx="335.9" cy="1399.4" r="6.75"/>
<circle cx="338.4" cy="1418.8" r="6.75"/>
<circle cx="341.2" cy="1436.5" r="6.75"/>
<circle cx="344.0" cy="1455.2" r="6.75"/>
<circle cx="346.5" cy="1475.3" r="6.75"/>
<circle cx="350.0" cy="1493.0" r="6.75"/>
<circle cx="352.5" cy="1505.3" r="6.75"/>
<circle cx="355.3" cy="1521.2" r="6.75"/>
<circle cx="358.1" cy="1535.3" r="6.75"/>
<circle cx="360.6" cy="1551.2" r="6.75"/>
<circle cx="362.4" cy="1565.3" r="6.75"/>
<circle cx="365.9" cy="1574.1" r="6.75"/>
<circle cx="368.7" cy="1593.6" r="6.75"/>
<circle cx="371.2" cy="1604.1" r="6.75"/>
<circle cx="374.7" cy="1618.3" r="6.75"/>
<circle cx="378.2" cy="1632.4" r="6.75"/>
<circle cx="381.8" cy="1643.0" r="6.75"/>
<circle cx="385.3" cy="1657.1" r="6.75"/>
<circle cx="388.8" cy="1669.5" r="6.75"/>
<circle cx="392.4" cy="1680.0" r="6.75"/>
<circle cx="395.9" cy="1688.9" r="6.75"/>
<circle cx="403.0" cy="1694.2" r="6.75"/>
<circle cx="411.8" cy="1699.5" r="6.75"/>
<circle cx="422.4" cy="1703.0" r="6.75"/>
<circle cx="433.0" cy="1706.5" r="6.75"/>
<circle cx="441.8" cy="1710.0" r="6.75"/>
<circle cx="447.1" cy="1703.0" r="6.75"/>
<circle cx="450.6" cy="1694.2" r="6.75"/>
<circle cx="453.4" cy="1683.6" r="6.75"/>
<circle cx="455.9" cy="1669.5" r="6.75"/>
<circle cx="458.4" cy="1651.8" r="6.75"/>
<circle cx="461.2" cy="1630.6" r="6.75"/>
<circle cx="463.0" cy="1600.6" r="6.75"/>
<circle cx="468.2" cy="1568.8" r="6.75"/>
<circle cx="469.0" cy="1542.4" r="6.75"/>
<circle cx="471.8" cy="1514.1" r="6.75"/>
<circle cx="475.3" cy="1484.1" r="6.75"/>
<circle cx="477.1" cy="1470.0" r="6.75"/>
<circle cx="480.6" cy="1455.2" r="6.75"/>
<circle cx="482.4" cy="1434.7" r="6.75"/>
<circle cx="485.9" cy="1424.1" r="6.75"/>
<circle cx="489.4" cy="1415.3" r="6.75"/>
<circle cx="493.0" cy="1408.2" r="6.75"/>
<circle cx="500.0" cy="1408.2" r="6.75"/>
<circle cx="507.1" cy="1411.8" r="6.75"/>
<circle cx="514.1" cy="1417.1" r="6.75"/>
<circle cx="521.2" cy="1418.8" r="6.75"/>
<circle cx="528.3" cy="1425.9" r="6.75"/>
<circle cx="535.3" cy="1434.7" r="6.75"/>
<circle cx="540.6" cy="1436.5" r="6.75"/>
<circle cx="547.7" cy="1434.7" r="6.75"/>
<circle cx="554.7" cy="1427.7" r="6.75"/>
<circle cx="560.0" cy="1420.6" r="6.75"/>
<circle cx="565.3" cy="1410.0" r="6.75"/>
<circle cx="568.9" cy="1399.4" r="6.75"/>
<circle cx="572.4" cy="1390.6" r="6.75"/>
<circle cx="575.9" cy="1380.0" r="6.75"/>
<circle cx="581.2" cy="1369.4" r="6.75"/>
<circle cx="584.8" cy="1366.5" r="6.75"/>
<circle cx="586.5" cy="1371.2" r="6.75"/>
<circle cx="591.1" cy="1379.2" r="6.75"/>
<circle cx="594.3" cy="1388.8" r="6.75"/>
<circle cx="597.5" cy="1403.1" r="6.75"/>
<circle cx="600.6" cy="1417.4" r="6.75"/>
<circle cx="603.8" cy="1431.7" r="6.75"/>
<circle cx="608.6" cy="1463.4" r="6.75"/>
<circle cx="610.2" cy="1477.7" r="6.75"/>
<circle cx="613.4" cy="1492.0" r="6.75"/>
<circle cx="616.5" cy="1504.7" r="6.75"/>
<circle cx="619.7" cy="1517.4" r="6.75"/>
<circle cx="622.9" cy="1528.5" r="6.75"/>
<circle cx="626.1" cy="1538.1" r="6.75"/>
<circle cx="629.2" cy="1547.6" r="6.75"/>
<circle cx="632.4" cy="1555.5" r="6.75"/>
<circle cx="635.6" cy="1563.5" r="6.75"/>
<circle cx="638.8" cy="1573.0" r="6.75"/>
<circle cx="641.9" cy="1584.1" r="6.75"/>
<circle cx="645.1" cy="1598.4" r="6.75"/>
<circle cx="646.5" cy="1615.7" r="6.75"/>
<circle cx="649.2" cy="1632.8" r="6.75"/>
<circle cx="651.9" cy="1653.1" r="6.75"/>
<circle cx="654.6" cy="1673.3" r="6.75"/>
<circle cx="657.3" cy="1692.3" r="6.75"/>
<circle cx="660.0" cy="1712.0" r="6.75"/>
<circle cx="662.7" cy="1726.1" r="6.75"/>
<circle cx="665.5" cy="1741.0" r="6.75"/>
<circle cx="668.4" cy="1752.1" r="6.75"/>
<circle cx="670.9" cy="1760.8" r="6.75"/>
<circle cx="674.6" cy="1768.2" r="6.75"/>
<circle cx="679.5" cy="1774.3" r="6.75"/>
<circle cx="689.4" cy="1778.1" r="6.75"/>
<circle cx="701.8" cy="1780.5" r="6.75"/>
<circle cx="714.1" cy="1783.0" r="6.75"/>
<circle cx="738.8" cy="1786.7" r="6.75"/>
<circle cx="763.5" cy="1789.2" r="6.75"/>
<circle cx="788.2" cy="1791.6" r="6.75"/>
<circle cx="812.9" cy="1792.9" r="6.75"/>
<circle cx="830.2" cy="1794.1" r="6.75"/>
<circle cx="398.3" cy="1690.1" r="6.75"/>
<circle cx="400.8" cy="1691.9" r="6.75"/>
<circle cx="406.1" cy="1696.0" r="6.75"/>
<circle cx="409.0" cy="1697.2" r="6.75"/>
<circle cx="414.6" cy="1700.1" r="6.75"/>
<circle cx="416.9" cy="1701.3" r="6.75"/>
<circle cx="419.7" cy="1702.2" r="6.75"/>
<circle cx="425.1" cy="1704.3" r="6.75"/>
<circle cx="427.8" cy="1705.1" r="6.75"/>
<circle cx="430.3" cy="1705.3" r="6.75"/>
<circle cx="435.6" cy="1707.3" r="6.75"/>
<circle cx="438.9" cy="1709.0" r="6.75"/>
<circle cx="444.5" cy="1706.0" r="6.75"/>
<circle cx="465.7" cy="1584.6" r="6.75"/>
<circle cx="495.2" cy="1408.1" r="6.75"/>
<circle cx="497.8" cy="1408.4" r="6.75"/>
<circle cx="502.2" cy="1409.5" r="6.75"/>
<circle cx="504.7" cy="1410.5" r="6.75"/>
<circle cx="509.4" cy="1412.8" r="6.75"/>
<circle cx="511.9" cy="1414.9" r="6.75"/>
<circle cx="516.5" cy="1417.7" r="6.75"/>
<circle cx="518.6" cy="1418.2" r="6.75"/>
<circle cx="523.4" cy="1421.1" r="6.75"/>
<circle cx="526.0" cy="1423.5" r="6.75"/>
<circle cx="530.3" cy="1428.6" r="6.75"/>
<circle cx="533.1" cy="1432.0" r="6.75"/>
<circle cx="538.1" cy="1435.7" r="6.75"/>
<circle cx="543.0" cy="1435.8" r="6.75"/>
<circle cx="545.3" cy="1435.1" r="6.75"/>
<circle cx="550.3" cy="1432.2" r="6.75"/>
<circle cx="552.2" cy="1430.1" r="6.75"/>
<circle cx="557.1" cy="1424.8" r="6.75"/>
<circle cx="562.6" cy="1415.2" r="6.75"/>
<circle cx="578.5" cy="1375.0" r="6.75"/>
<circle cx="606.1" cy="1446.8" r="6.75"/>
<circle cx="676.9" cy="1771.4" r="6.75"/>
<circle cx="682.0" cy="1776.0" r="6.75"/>
<circle cx="684.7" cy="1776.4" r="6.75"/>
<circle cx="686.7" cy="1777.4" r="6.75"/>
<circle cx="692.1" cy="1778.7" r="6.75"/>
<circle cx="694.5" cy="1778.7" r="6.75"/>
<circle cx="696.8" cy="1779.6" r="6.75"/>
<circle cx="699.0" cy="1780.7" r="6.75"/>
<circle cx="704.2" cy="1781.3" r="6.75"/>
<circle cx="706.6" cy="1781.5" r="6.75"/>
<circle cx="709.1" cy="1782.2" r="6.75"/>
<circle cx="711.8" cy="1782.7" r="6.75"/>
<circle cx="717.0" cy="1783.9" r="6.75"/>
<circle cx="719.4" cy="1783.8" r="6.75"/>
<circle cx="722.6" cy="1784.7" r="6.75"/>
<circle cx="725.0" cy="1784.4" r="6.75"/>
<circle cx="728.1" cy="1784.8" r="6.75"/>
<circle cx="730.6" cy="1785.7" r="6.75"/>
<circle cx="733.2" cy="1785.7" r="6.75"/>
<circle cx="735.8" cy="1786.5" r="6.75"/>
<circle cx="741.4" cy="1787.4" r="6.75"/>
<circle cx="744.6" cy="1787.6" r="6.75"/>
<circle cx="747.0" cy="1787.5" r="6.75"/>
<circle cx="749.6" cy="1788.0" r="6.75"/>
<circle cx="752.8" cy="1787.6" r="6.75"/>
<circle cx="755.5" cy="1788.9" r="6.75"/>
<circle cx="758.3" cy="1788.2" r="6.75"/>
<circle cx="760.8" cy="1788.4" r="6.75"/>
<circle cx="766.4" cy="1789.4" r="6.75"/>
<circle cx="769.0" cy="1789.6" r="6.75"/>
<circle cx="771.6" cy="1790.0" r="6.75"/>
<circle cx="774.2" cy="1789.8" r="6.75"/>
<circle cx="777.2" cy="1790.7" r="6.75"/>
<circle cx="779.9" cy="1790.7" r="6.75"/>
<circle cx="783.0" cy="1790.9" r="6.75"/>
<circle cx="785.3" cy="1791.8" r="6.75"/>
<circle cx="791.0" cy="1791.6" r="6.75"/>
<circle cx="793.6" cy="1791.7" r="6.75"/>
<circle cx="796.3" cy="1792.1" r="6.75"/>
<circle cx="799.4" cy="1792.3" r="6.75"/>
<circle cx="802.2" cy="1792.1" r="6.75"/>
<circle cx="805.0" cy="1792.5" r="6.75"/>
<circle cx="807.2" cy="1792.5" r="6.75"/>
<circle cx="809.9" cy="1792.8" r="6.75"/>
<circle cx="815.2" cy="1793.0" r="6.75"/>
<circle cx="817.7" cy="1793.4" r="6.75"/>
<circle cx="820.5" cy="1792.8" r="6.75"/>
<circle cx="822.7" cy="1793.3" r="6.75"/>
<circle cx="825.2" cy="1793.4" r="6.75"/>
<circle cx="827.6" cy="1794.1" r="6.75"/>
</g>
<g fill="none" stroke="#0000ff" stroke-width="1.85">
<circle cx="230.6" cy="1431.8" r="6.75"/>
<circle cx="238.2" cy="1430.3" r="6.75"/>
<circle cx="245.9" cy="1421.1" r="6.75"/>
<circle cx="250.5" cy="1411.9" r="6.75"/>
<circle cx="258.1" cy="1408.8" r="6.75"/>
<circle cx="264.2" cy="1405.8" r="6.75"/>
<circle cx="271.9" cy="1399.7" r="6.75"/>
<circle cx="276.5" cy="1392.0" r="6.75"/>
<circle cx="284.1" cy="1393.5" r="6.75"/>
<circle cx="288.7" cy="1384.4" r="6.75"/>
<circle cx="297.9" cy="1379.8" r="6.75"/>
<circle cx="305.5" cy="1376.7" r="6.75"/>
<circle cx="313.2" cy="1376.7" r="6.75"/>
<circle cx="320.8" cy="1382.8" r="6.75"/>
<circle cx="322.4" cy="1387.4" r="6.75"/>
<circle cx="331.5" cy="1387.4" r="6.75"/>
<circle cx="339.2" cy="1385.9" r="6.75"/>
<circle cx="348.4" cy="1381.3" r="6.75"/>
<circle cx="356.0" cy="1389.0" r="6.75"/>
<circle cx="363.7" cy="1384.4" r="6.75"/>
<circle cx="372.8" cy="1385.9" r="6.75"/>
<circle cx="382.0" cy="1387.4" r="6.75"/>
<circle cx="386.6" cy="1392.0" r="6.75"/>
<circle cx="392.7" cy="1398.1" r="6.75"/>
<circle cx="395.8" cy="1411.9" r="6.75"/>
<circle cx="401.9" cy="1418.0" r="6.75"/>
<circle cx="406.5" cy="1431.2" r="6.75"/>
<circle cx="410.0" cy="1441.8" r="6.75"/>
<circle cx="413.5" cy="1452.4" r="6.75"/>
<circle cx="417.1" cy="1464.7" r="6.75"/>
<circle cx="422.4" cy="1477.1" r="6.75"/>
<circle cx="425.9" cy="1485.9" r="6.75"/>
<circle cx="429.4" cy="1494.7" r="6.75"/>
<circle cx="434.7" cy="1505.3" r="6.75"/>
<circle cx="440.0" cy="1519.4" r="6.75"/>
<circle cx="443.5" cy="1530.0" r="6.75"/>
<circle cx="447.1" cy="1540.6" r="6.75"/>
<circle cx="452.4" cy="1551.2" r="6.75"/>
<circle cx="457.7" cy="1561.8" r="6.75"/>
<circle cx="463.0" cy="1572.4" r="6.75"/>
<circle cx="468.2" cy="1583.0" r="6.75"/>
<circle cx="473.5" cy="1593.6" r="6.75"/>
<circle cx="480.6" cy="1604.1" r="6.75"/>
<circle cx="485.9" cy="1613.0" r="6.75"/>
<circle cx="491.2" cy="1625.3" r="6.75"/>
<circle cx="496.5" cy="1635.9" r="6.75"/>
<circle cx="503.5" cy="1646.5" r="6.75"/>
<circle cx="510.6" cy="1657.1" r="6.75"/>
<circle cx="517.7" cy="1667.7" r="6.75"/>
<circle cx="524.7" cy="1674.7" r="6.75"/>
<circle cx="531.8" cy="1683.6" r="6.75"/>
<circle cx="538.8" cy="1690.6" r="6.75"/>
<circle cx="545.9" cy="1697.7" r="6.75"/>
<circle cx="553.0" cy="1701.2" r="6.75"/>
<circle cx="560.0" cy="1697.7" r="6.75"/>
<circle cx="565.3" cy="1688.9" r="6.75"/>
<circle cx="567.1" cy="1678.3" r="6.75"/>
<circle cx="569.9" cy="1655.3" r="6.75"/>
<circle cx="572.4" cy="1634.2" r="6.75"/>
<circle cx="575.9" cy="1611.2" r="6.75"/>
<circle cx="578.5" cy="1581.5" r="6.75"/>
<circle cx="581.5" cy="1551.0" r="6.75"/>
<circle cx="584.5" cy="1522.0" r="6.75"/>
<circle cx="586.5" cy="1495.0" r="6.75"/>
<circle cx="589.5" cy="1479.3" r="6.75"/>
<circle cx="591.1" cy="1461.8" r="6.75"/>
<circle cx="595.9" cy="1457.1" r="6.75"/>
<circle cx="600.6" cy="1449.1" r="6.75"/>
<circle cx="605.4" cy="1449.1" r="6.75"/>
<circle cx="608.6" cy="1436.4" r="6.75"/>
<circle cx="611.8" cy="1425.3" r="6.75"/>
<circle cx="614.9" cy="1412.6" r="6.75"/>
<circle cx="617.5" cy="1401.5" r="6.75"/>
<circle cx="619.7" cy="1390.4" r="6.75"/>
<circle cx="621.3" cy="1374.5" r="6.75"/>
<circle cx="627.6" cy="1369.7" r="6.75"/>
<circle cx="632.4" cy="1371.3" r="6.75"/>
<circle cx="636.5" cy="1390.4" r="6.75"/>
<circle cx="638.8" cy="1401.5" r="6.75"/>
<circle cx="641.0" cy="1414.2" r="6.75"/>
<circle cx="643.5" cy="1428.5" r="6.75"/>
<circle cx="645.1" cy="1441.2" r="6.75"/>
<circle cx="649.9" cy="1446.0" r="6.75"/>
<circle cx="653.1" cy="1452.3" r="6.75"/>
<circle cx="657.8" cy="1450.7" r="6.75"/>
<circle cx="661.0" cy="1438.0" r="6.75"/>
<circle cx="662.6" cy="1426.9" r="6.75"/>
<circle cx="665.1" cy="1414.2" r="6.75"/>
<circle cx="668.3" cy="1398.3" r="6.75"/>
<circle cx="670.5" cy="1382.4" r="6.75"/>
<circle cx="673.7" cy="1369.7" r="6.75"/>
<circle cx="675.3" cy="1358.6" r="6.75"/>
<circle cx="679.1" cy="1348.4" r="6.75"/>
<circle cx="683.2" cy="1352.2" r="6.75"/>
<circle cx="686.4" cy="1361.8" r="6.75"/>
<circle cx="689.6" cy="1371.3" r="6.75"/>
<circle cx="692.8" cy="1379.2" r="6.75"/>
<circle cx="695.9" cy="1391.9" r="6.75"/>
<circle cx="700.7" cy="1398.3" r="6.75"/>
<circle cx="703.9" cy="1401.5" r="6.75"/>
<circle cx="707.1" cy="1407.8" r="6.75"/>
<circle cx="709.6" cy="1417.4" r="6.75"/>
<circle cx="711.8" cy="1431.7" r="6.75"/>
<circle cx="715.0" cy="1449.1" r="6.75"/>
<circle cx="717.2" cy="1468.2" r="6.75"/>
<circle cx="719.8" cy="1482.5" r="6.75"/>
<circle cx="723.0" cy="1504.7" r="6.75"/>
<circle cx="725.5" cy="1520.6" r="6.75"/>
<circle cx="728.7" cy="1539.7" r="6.75"/>
<circle cx="731.8" cy="1547.6" r="6.75"/>
<circle cx="734.1" cy="1560.3" r="6.75"/>
<circle cx="738.8" cy="1574.6" r="6.75"/>
<circle cx="742.0" cy="1582.5" r="6.75"/>
<circle cx="744.5" cy="1590.8" r="6.75"/>
<circle cx="747.2" cy="1600.3" r="6.75"/>
<circle cx="750.4" cy="1608.4" r="6.75"/>
<circle cx="752.6" cy="1623.3" r="6.75"/>
<circle cx="755.3" cy="1635.5" r="6.75"/>
<circle cx="758.5" cy="1657.1" r="6.75"/>
<circle cx="760.7" cy="1675.2" r="6.75"/>
<circle cx="763.9" cy="1699.0" r="6.75"/>
<circle cx="766.1" cy="1719.3" r="6.75"/>
<circle cx="768.5" cy="1737.3" r="6.75"/>
<circle cx="770.9" cy="1752.1" r="6.75"/>
<circle cx="773.4" cy="1764.5" r="6.75"/>
<circle cx="777.1" cy="1771.9" r="6.75"/>
<circle cx="783.3" cy="1779.3" r="6.75"/>
<circle cx="793.2" cy="1781.8" r="6.75"/>
<circle cx="808.0" cy="1783.0" r="6.75"/>
<circle cx="830.2" cy="1786.7" r="6.75"/>
<circle cx="233.4" cy="1431.9" r="6.75"/>
<circle cx="235.4" cy="1431.0" r="6.75"/>
<circle cx="241.0" cy="1426.1" r="6.75"/>
<circle cx="243.2" cy="1424.1" r="6.75"/>
<circle cx="253.0" cy="1410.8" r="6.75"/>
<circle cx="255.5" cy="1410.4" r="6.75"/>
<circle cx="261.4" cy="1408.8" r="6.75"/>
<circle cx="266.5" cy="1403.3" r="6.75"/>
<circle cx="269.6" cy="1403.0" r="6.75"/>
<circle cx="279.0" cy="1392.8" r="6.75"/>
<circle cx="281.5" cy="1393.0" r="6.75"/>
<circle cx="292.0" cy="1382.9" r="6.75"/>
<circle cx="295.1" cy="1382.1" r="6.75"/>
<circle cx="300.3" cy="1377.4" r="6.75"/>
<circle cx="303.0" cy="1378.1" r="6.75"/>
<circle cx="308.2" cy="1377.0" r="6.75"/>
<circle cx="310.7" cy="1377.9" r="6.75"/>
<circle cx="315.9" cy="1378.3" r="6.75"/>
<circle cx="318.0" cy="1379.8" r="6.75"/>
<circle cx="325.6" cy="1387.7" r="6.75"/>
<circle cx="328.6" cy="1387.6" r="6.75"/>
<circle cx="333.9" cy="1388.7" r="6.75"/>
<circle cx="336.7" cy="1386.8" r="6.75"/>
<circle cx="342.4" cy="1384.8" r="6.75"/>
<circle cx="345.3" cy="1383.1" r="6.75"/>
<circle cx="351.0" cy="1384.1" r="6.75"/>
<circle cx="353.5" cy="1386.0" r="6.75"/>
<circle cx="358.3" cy="1387.8" r="6.75"/>
<circle cx="361.4" cy="1385.7" r="6.75"/>
<circle cx="366.8" cy="1385.7" r="6.75"/>
<circle cx="369.6" cy="1386.1" r="6.75"/>
<circle cx="375.7" cy="1385.8" r="6.75"/>
<circle cx="378.8" cy="1388.1" r="6.75"/>
<circle cx="389.4" cy="1394.7" r="6.75"/>
<circle cx="398.8" cy="1413.8" r="6.75"/>
<circle cx="419.6" cy="1470.9" r="6.75"/>
<circle cx="431.9" cy="1499.1" r="6.75"/>
<circle cx="437.1" cy="1510.8" r="6.75"/>
<circle cx="449.9" cy="1545.5" r="6.75"/>
<circle cx="454.9" cy="1557.2" r="6.75"/>
<circle cx="460.4" cy="1567.5" r="6.75"/>
<circle cx="465.4" cy="1576.4" r="6.75"/>
<circle cx="471.0" cy="1589.0" r="6.75"/>
<circle cx="475.7" cy="1597.0" r="6.75"/>
<circle cx="478.1" cy="1600.8" r="6.75"/>
<circle cx="483.5" cy="1609.9" r="6.75"/>
<circle cx="488.4" cy="1618.6" r="6.75"/>
<circle cx="493.8" cy="1630.6" r="6.75"/>
<circle cx="498.6" cy="1638.4" r="6.75"/>
<circle cx="501.1" cy="1641.3" r="6.75"/>
<circle cx="505.7" cy="1650.5" r="6.75"/>
<circle cx="508.0" cy="1655.7" r="6.75"/>
<circle cx="513.2" cy="1661.4" r="6.75"/>
<circle cx="515.6" cy="1664.5" r="6.75"/>
<circle cx="520.3" cy="1669.7" r="6.75"/>
<circle cx="522.3" cy="1669.6" r="6.75"/>
<circle cx="527.2" cy="1678.4" r="6.75"/>
<circle cx="529.2" cy="1682.4" r="6.75"/>
<circle cx="534.1" cy="1685.5" r="6.75"/>
<circle cx="536.4" cy="1687.6" r="6.75"/>
<circle cx="541.0" cy="1693.0" r="6.75"/>
<circle cx="543.4" cy="1695.4" r="6.75"/>
<circle cx="548.5" cy="1699.3" r="6.75"/>
<circle cx="550.5" cy="1699.9" r="6.75"/>
<circle cx="555.5" cy="1699.1" r="6.75"/>
<circle cx="557.6" cy="1700.0" r="6.75"/>
<circle cx="562.6" cy="1694.2" r="6.75"/>
<circle cx="593.8" cy="1459.7" r="6.75"/>
<circle cx="598.5" cy="1453.4" r="6.75"/>
<circle cx="602.7" cy="1449.8" r="6.75"/>
<circle cx="624.6" cy="1370.9" r="6.75"/>
<circle cx="629.7" cy="1371.3" r="6.75"/>
<circle cx="647.8" cy="1443.9" r="6.75"/>
<circle cx="655.3" cy="1451.6" r="6.75"/>
<circle cx="698.2" cy="1395.1" r="6.75"/>
<circle cx="736.3" cy="1565.7" r="6.75"/>
<circle cx="780.1" cy="1776.0" r="6.75"/>
<circle cx="785.9" cy="1779.8" r="6.75"/>
<circle cx="788.0" cy="1780.5" r="6.75"/>
<circle cx="790.9" cy="1781.4" r="6.75"/>
<circle cx="795.9" cy="1782.4" r="6.75"/>
<circle cx="797.8" cy="1782.0" r="6.75"/>
<circle cx="800.9" cy="1782.4" r="6.75"/>
<circle cx="803.3" cy="1782.9" r="6.75"/>
<circle cx="805.5" cy="1782.6" r="6.75"/>
<circle cx="810.8" cy="1783.6" r="6.75"/>
<circle cx="813.7" cy="1784.1" r="6.75"/>
<circle cx="816.5" cy="1784.3" r="6.75"/>
<circle cx="819.2" cy="1785.1" r="6.75"/>
<circle cx="821.8" cy="1784.8" r="6.75"/>
<circle cx="824.8" cy="1785.7" r="6.75"/>
<circle cx="827.2" cy="1786.5" r="6.75"/>
</g>
<g style="will-change:transform">
<text transform="translate(31.30 503.76) rotate(-90) scale(0.43994 0.42609)" font-family="&quot;Liberation Sans&quot;, sans-serif" font-size="100">Intensity</text>
<text transform="translate(31.30 326.16) rotate(-90) scale(0.44318 0.42609)" font-family="&quot;Liberation Sans&quot;, sans-serif" font-size="100">(Arb.</text>
<text transform="translate(31.30 218.73) rotate(-90) scale(0.43111 0.42609)" font-family="&quot;Liberation Sans&quot;, sans-serif" font-size="100">Units)</text>
<text transform="translate(31.30 1106.06) rotate(-90) scale(0.43994 0.42609)" font-family="&quot;Liberation Sans&quot;, sans-serif" font-size="100">Intensity</text>
<text transform="translate(31.30 928.46) rotate(-90) scale(0.44318 0.42609)" font-family="&quot;Liberation Sans&quot;, sans-serif" font-size="100">(Arb.</text>
<text transform="translate(31.30 821.03) rotate(-90) scale(0.43111 0.42609)" font-family="&quot;Liberation Sans&quot;, sans-serif" font-size="100">Units)</text>
<text transform="translate(31.30 1706.76) rotate(-90) scale(0.43994 0.42609)" font-family="&quot;Liberation Sans&quot;, sans-serif" font-size="100">Intensity</text>
<text transform="translate(31.30 1529.16) rotate(-90) scale(0.44318 0.42609)" font-family="&quot;Liberation Sans&quot;, sans-serif" font-size="100">(Arb.</text>
<text transform="translate(31.30 1421.73) rotate(-90) scale(0.43111 0.42609)" font-family="&quot;Liberation Sans&quot;, sans-serif" font-size="100">Units)</text>
<text transform="matrix(0.40980 0 0 0.50545 94.06 341.49)" font-family="&quot;Liberation Sans&quot;, sans-serif" font-size="100" fill="#000">a</text>
<text transform="matrix(0.53846 0 0 0.50053 121.66 339.29)" font-family="&quot;Liberation Sans&quot;, sans-serif" font-size="100" fill="#000">)</text>
<text transform="matrix(0.52444 0 0 0.51565 92.89 694.18)" font-family="&quot;Liberation Sans&quot;, sans-serif" font-size="100" fill="#000">b</text>
<text transform="matrix(0.53077 0 0 0.49626 124.57 691.98)" font-family="&quot;Liberation Sans&quot;, sans-serif" font-size="100" fill="#000">)</text>
<text transform="matrix(0.50930 0 0 0.49091 112.81 1333.51)" font-family="&quot;Liberation Sans&quot;, sans-serif" font-size="100" fill="#000">c</text>
<text transform="matrix(0.53462 0 0 0.50053 141.47 1331.29)" font-family="&quot;Liberation Sans&quot;, sans-serif" font-size="100" fill="#000">)</text>
<text transform="matrix(0.38869 0 0 0.43478 281.99 165.90)" font-family="&quot;Liberation Sans&quot;, sans-serif" font-size="100" fill="#000">MAPbI</text>
<text transform="matrix(0.28511 0 0 0.31831 398.86 176.48)" font-family="&quot;Liberation Sans&quot;, sans-serif" font-size="100" fill="#000">3</text>
<text transform="matrix(0.38239 0 0 0.43188 222.84 832.60)" font-family="&quot;Liberation Sans&quot;, sans-serif" font-size="100" fill="#000">MAPbCl</text>
<text transform="matrix(0.28085 0 0 0.30845 364.58 842.69)" font-family="&quot;Liberation Sans&quot;, sans-serif" font-size="100" fill="#000">3</text>
<text transform="matrix(0.37574 0 0 0.42899 213.29 1590.70)" font-family="&quot;Liberation Sans&quot;, sans-serif" font-size="100" fill="#000">PbCl</text>
<text transform="matrix(0.30330 0 0 0.30714 295.58 1600.90)" font-family="&quot;Liberation Sans&quot;, sans-serif" font-size="100" fill="#000">2</text>
<text transform="matrix(0.38045 0 0 0.43043 213.26 1648.80)" font-family="&quot;Liberation Sans&quot;, sans-serif" font-size="100" fill="#000">PbI</text>
<text transform="matrix(0.30549 0 0 0.31000 270.57 1659.30)" font-family="&quot;Liberation Sans&quot;, sans-serif" font-size="100" fill="#000">2</text>
<text transform="matrix(0.50612 0 0 0.36250 196.42 1889.96)" font-family="&quot;Liberation Sans&quot;, sans-serif" font-size="100" fill="#000">-</text>
<text transform="matrix(0.42637 0 0 0.44143 213.50 1892.10)" font-family="&quot;Liberation Sans&quot;, sans-serif" font-size="100">1</text>
<text transform="matrix(0.42637 0 0 0.44143 239.37 1892.10)" font-family="&quot;Liberation Sans&quot;, sans-serif" font-size="100" fill="#000">2</text>
<text transform="matrix(0.48980 0 0 0.35000 407.70 1889.67)" font-family="&quot;Liberation Sans&quot;, sans-serif" font-size="100" fill="#000">-</text>
<text transform="matrix(0.44043 0 0 0.44225 424.02 1892.66)" font-family="&quot;Liberation Sans&quot;, sans-serif" font-size="100" fill="#000">8</text>
<text transform="matrix(0.48980 0 0 0.35000 605.90 1889.67)" font-family="&quot;Liberation Sans&quot;, sans-serif" font-size="100" fill="#000">-</text>
<text transform="matrix(0.44800 0 0 0.42899 622.18 1891.70)" font-family="&quot;Liberation Sans&quot;, sans-serif" font-size="100" fill="#000">4</text>
<text transform="matrix(0.46526 0 0 0.44648 813.14 1892.45)" font-family="&quot;Liberation Sans&quot;, sans-serif" font-size="100" fill="#000">0</text>
<text transform="matrix(0.40972 0 0 0.43333 267.42 1932.10)" font-family="&quot;Liberation Sans&quot;, sans-serif" font-size="100" fill="#000">Binding</text>
<text transform="matrix(0.40551 0 0 0.43333 416.86 1932.10)" font-family="&quot;Liberation Sans&quot;, sans-serif" font-size="100" fill="#000">Energy</text>
<text transform="matrix(0.44589 0 0 0.43333 559.52 1932.10)" font-family="&quot;Liberation Sans&quot;, sans-serif" font-size="100" fill="#000">(eV)</text>
<circle cx="151.6" cy="1577.3" r="13.3" fill="none" stroke="#00cc00" stroke-width="2.2"/>
<circle cx="151.6" cy="1635.4" r="13.3" fill="none" stroke="#0000ff" stroke-width="2.2"/>
</g>
</svg>
</body></html>
